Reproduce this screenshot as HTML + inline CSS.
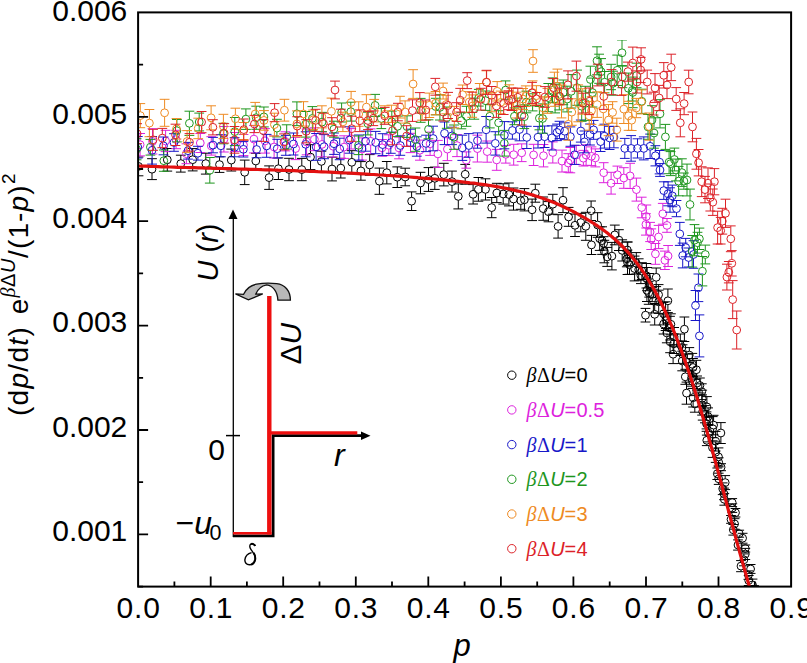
<!DOCTYPE html>
<html><head><meta charset="utf-8"><style>
html,body{margin:0;padding:0;background:#fff;}
svg{display:block;}
text{font-family:"Liberation Sans",sans-serif;}
</style></head><body>
<svg width="807" height="663" viewBox="0 0 807 663">
<defs><clipPath id="c"><rect x="138.1" y="12.4" width="653.0" height="574.2"/></clipPath><filter id="bl" x="0" y="0" width="1" height="1"><feGaussianBlur stdDeviation="0.4"/></filter></defs>
<rect width="807" height="663" fill="#fff"/>
<g clip-path="url(#c)"><g filter="url(#bl)">
<g stroke="#000000" stroke-width="1" fill="none"><path d="M133.6 157.0h9.8M138.5 157.0V162.5M138.5 170.3V175.8M133.6 175.8h9.8"/><circle cx="138.5" cy="166.4" r="3.9"/><path d="M147.1 158.7h9.8M152.0 158.7V165.3M152.0 173.1V179.6M147.1 179.6h9.8"/><circle cx="152.0" cy="169.2" r="3.9"/><path d="M162.4 148.5h9.8M167.3 148.5V155.9M167.3 163.7V171.1M162.4 171.1h9.8"/><circle cx="167.3" cy="159.8" r="3.9"/><path d="M175.9 155.2h9.8M180.8 155.2V159.7M180.8 167.5V172.1M175.9 172.1h9.8"/><circle cx="180.8" cy="163.6" r="3.9"/><path d="M187.8 148.6h9.8M192.7 148.6V155.8M192.7 163.6V170.9M187.8 170.9h9.8"/><circle cx="192.7" cy="159.7" r="3.9"/><path d="M200.9 153.2h9.8M205.8 153.2V159.7M205.8 167.5V174.1M200.9 174.1h9.8"/><circle cx="205.8" cy="163.6" r="3.9"/><path d="M214.6 156.8h9.8M219.5 156.8V160.7M219.5 168.5V172.4M214.6 172.4h9.8"/><circle cx="219.5" cy="164.6" r="3.9"/><path d="M226.4 149.1h9.8M231.3 149.1V156.2M231.3 164.0V171.0M226.4 171.0h9.8"/><circle cx="231.3" cy="160.1" r="3.9"/><path d="M239.8 160.1h9.8M244.7 160.1V168.4M244.7 176.2V184.6M239.8 184.6h9.8"/><circle cx="244.7" cy="172.3" r="3.9"/><path d="M250.9 153.3h9.8M255.8 153.3V157.1M255.8 164.9V168.7M250.9 168.7h9.8"/><circle cx="255.8" cy="161.0" r="3.9"/><path d="M264.2 165.9h9.8M269.1 165.9V173.7M269.1 181.5V189.4M264.2 189.4h9.8"/><circle cx="269.1" cy="177.6" r="3.9"/><path d="M273.5 157.9h9.8M278.4 157.9V164.8M278.4 172.6V179.5M273.5 179.5h9.8"/><circle cx="278.4" cy="168.7" r="3.9"/><path d="M284.1 158.3h9.8M289.0 158.3V165.6M289.0 173.4V180.7M284.1 180.7h9.8"/><circle cx="289.0" cy="169.5" r="3.9"/><path d="M296.9 158.4h9.8M301.8 158.4V165.7M301.8 173.5V180.7M296.9 180.7h9.8"/><circle cx="301.8" cy="169.6" r="3.9"/><path d="M305.6 144.7h9.8M310.5 144.7V153.2M310.5 161.0V169.6M305.6 169.6h9.8"/><circle cx="310.5" cy="157.1" r="3.9"/><path d="M316.5 151.2h9.8M321.4 151.2V157.5M321.4 165.3V171.6M316.5 171.6h9.8"/><circle cx="321.4" cy="161.4" r="3.9"/><path d="M327.1 157.2h9.8M332.0 157.2V165.1M332.0 172.9V180.9M327.1 180.9h9.8"/><circle cx="332.0" cy="169.0" r="3.9"/><path d="M335.9 158.3h9.8M340.8 158.3V164.2M340.8 172.0V178.0M335.9 178.0h9.8"/><circle cx="340.8" cy="168.1" r="3.9"/><path d="M346.9 150.7h9.8M351.8 150.7V158.4M351.8 166.2V173.9M346.9 173.9h9.8"/><circle cx="351.8" cy="162.3" r="3.9"/><path d="M356.0 161.6h9.8M360.9 161.6V167.0M360.9 174.8V180.2M356.0 180.2h9.8"/><circle cx="360.9" cy="170.9" r="3.9"/><path d="M364.8 154.6h9.8M369.7 154.6V161.0M369.7 168.8V175.3M364.8 175.3h9.8"/><circle cx="369.7" cy="164.9" r="3.9"/><path d="M374.5 168.1h9.8M379.4 168.1V177.3M379.4 185.1V194.3M374.5 194.3h9.8"/><circle cx="379.4" cy="181.2" r="3.9"/><path d="M381.9 161.5h9.8M386.8 161.5V168.8M386.8 176.6V183.9M381.9 183.9h9.8"/><circle cx="386.8" cy="172.7" r="3.9"/><path d="M392.4 166.9h9.8M397.3 166.9V173.3M397.3 181.1V187.5M392.4 187.5h9.8"/><circle cx="397.3" cy="177.2" r="3.9"/><path d="M400.3 168.2h9.8M405.2 168.2V173.1M405.2 180.9V185.8M400.3 185.8h9.8"/><circle cx="405.2" cy="177.0" r="3.9"/><path d="M406.7 191.9h9.8M411.6 191.9V197.3M411.6 205.1V210.5M406.7 210.5h9.8"/><circle cx="411.6" cy="201.2" r="3.9"/><path d="M415.6 172.3h9.8M420.5 172.3V179.1M420.5 186.9V193.8M415.6 193.8h9.8"/><circle cx="420.5" cy="183.0" r="3.9"/><path d="M423.6 167.6h9.8M428.5 167.6V175.6M428.5 183.4V191.4M423.6 191.4h9.8"/><circle cx="428.5" cy="179.5" r="3.9"/><path d="M429.9 167.1h9.8M434.8 167.1V174.4M434.8 182.2V189.4M429.9 189.4h9.8"/><circle cx="434.8" cy="178.3" r="3.9"/><path d="M438.9 163.3h9.8M443.8 163.3V170.7M443.8 178.5V185.9M438.9 185.9h9.8"/><circle cx="443.8" cy="174.6" r="3.9"/><path d="M447.1 171.1h9.8M452.0 171.1V177.7M452.0 185.5V192.0M447.1 192.0h9.8"/><circle cx="452.0" cy="181.6" r="3.9"/><path d="M453.4 183.9h9.8M458.3 183.9V192.5M458.3 200.3V208.9M453.4 208.9h9.8"/><circle cx="458.3" cy="196.4" r="3.9"/><path d="M460.3 164.4h9.8M465.2 164.4V170.4M465.2 178.2V184.2M460.3 184.2h9.8"/><circle cx="465.2" cy="174.3" r="3.9"/><path d="M468.2 184.6h9.8M473.1 184.6V190.4M473.1 198.2V204.0M468.2 204.0h9.8"/><circle cx="473.1" cy="194.3" r="3.9"/><path d="M473.5 177.5h9.8M478.4 177.5V185.5M478.4 193.3V201.2M473.5 201.2h9.8"/><circle cx="478.4" cy="189.4" r="3.9"/><path d="M480.6 178.8h9.8M485.5 178.8V185.5M485.5 193.3V200.0M480.6 200.0h9.8"/><circle cx="485.5" cy="189.4" r="3.9"/><path d="M486.8 197.5h9.8M491.7 197.5V203.7M491.7 211.5V217.7M486.8 217.7h9.8"/><circle cx="491.7" cy="207.6" r="3.9"/><path d="M491.9 183.3h9.8M496.8 183.3V189.1M496.8 196.9V202.6M491.9 202.6h9.8"/><circle cx="496.8" cy="193.0" r="3.9"/><path d="M498.3 183.8h9.8M503.2 183.8V190.1M503.2 197.9V204.1M498.3 204.1h9.8"/><circle cx="503.2" cy="194.0" r="3.9"/><path d="M504.0 183.0h9.8M508.9 183.0V190.6M508.9 198.4V205.9M504.0 205.9h9.8"/><circle cx="508.9" cy="194.5" r="3.9"/><path d="M508.6 188.0h9.8M513.5 188.0V195.1M513.5 202.9V210.1M508.6 210.1h9.8"/><circle cx="513.5" cy="199.0" r="3.9"/><path d="M515.9 191.9h9.8M520.8 191.9V196.7M520.8 204.5V209.3M515.9 209.3h9.8"/><circle cx="520.8" cy="200.6" r="3.9"/><path d="M519.5 188.6h9.8M524.4 188.6V195.9M524.4 203.7V210.9M519.5 210.9h9.8"/><circle cx="524.4" cy="199.8" r="3.9"/><path d="M527.2 199.1h9.8M532.1 199.1V205.9M532.1 213.7V220.6M527.2 220.6h9.8"/><circle cx="532.1" cy="209.8" r="3.9"/><path d="M530.4 184.2h9.8M535.3 184.2V189.3M535.3 197.1V202.2M530.4 202.2h9.8"/><circle cx="535.3" cy="193.2" r="3.9"/><path d="M538.3 197.0h9.8M543.2 197.0V204.7M543.2 212.5V220.3M538.3 220.3h9.8"/><circle cx="543.2" cy="208.6" r="3.9"/><path d="M543.6 201.6h9.8M548.5 201.6V207.8M548.5 215.6V221.8M543.6 221.8h9.8"/><circle cx="548.5" cy="211.7" r="3.9"/><path d="M547.9 194.3h9.8M552.8 194.3V200.3M552.8 208.1V214.2M547.9 214.2h9.8"/><circle cx="552.8" cy="204.2" r="3.9"/><path d="M553.2 214.7h9.8M558.1 214.7V222.5M558.1 230.3V238.1M553.2 238.1h9.8"/><circle cx="558.1" cy="226.4" r="3.9"/><path d="M558.1 187.7h9.8M563.0 187.7V196.3M563.0 204.1V212.6M558.1 212.6h9.8"/><circle cx="563.0" cy="200.2" r="3.9"/><path d="M563.7 207.4h9.8M568.6 207.4V213.0M568.6 220.8V226.3M563.7 226.3h9.8"/><circle cx="568.6" cy="216.9" r="3.9"/><path d="M570.1 214.1h9.8M575.0 214.1V221.4M575.0 229.2V236.5M570.1 236.5h9.8"/><circle cx="575.0" cy="225.3" r="3.9"/><path d="M575.9 213.4h9.8M580.8 213.4V218.7M580.8 226.5V231.8M575.9 231.8h9.8"/><circle cx="580.8" cy="222.6" r="3.9"/><path d="M580.9 212.3h9.8M585.8 212.3V222.4M585.8 230.2V240.3M580.9 240.3h9.8"/><circle cx="585.8" cy="226.3" r="3.9"/><path d="M586.2 201.0h9.8M591.1 201.0V206.8M591.1 214.6V220.5M586.2 220.5h9.8"/><circle cx="591.1" cy="210.7" r="3.9"/><path d="M592.7 212.7h9.8M597.6 212.7V221.1M597.6 228.9V237.3M592.7 237.3h9.8"/><circle cx="597.6" cy="225.0" r="3.9"/><path d="M586.6 235.4h9.8M591.5 235.4V241.0M591.5 248.8V254.5M586.6 254.5h9.8"/><circle cx="591.5" cy="244.9" r="3.9"/><path d="M594.8 226.9h9.8M599.7 226.9V234.7M599.7 242.5V250.4M594.8 250.4h9.8"/><circle cx="599.7" cy="238.6" r="3.9"/><path d="M597.2 226.8h9.8M602.1 226.8V236.7M602.1 244.5V254.4M597.2 254.4h9.8"/><circle cx="602.1" cy="240.6" r="3.9"/><path d="M598.7 236.7h9.8M603.6 236.7V239.5M603.6 247.3V250.1M598.7 250.1h9.8"/><circle cx="603.6" cy="243.4" r="3.9"/><path d="M609.9 225.1h9.8M614.8 225.1V231.0M614.8 238.8V244.8M609.9 244.8h9.8"/><circle cx="614.8" cy="234.9" r="3.9"/><path d="M599.4 240.3h9.8M604.3 240.3V247.7M604.3 255.5V262.8M599.4 262.8h9.8"/><circle cx="604.3" cy="251.6" r="3.9"/><path d="M614.0 229.7h9.8M618.9 229.7V236.2M618.9 244.0V250.5M614.0 250.5h9.8"/><circle cx="618.9" cy="240.1" r="3.9"/><path d="M602.3 247.4h9.8M607.2 247.4V253.0M607.2 260.8V266.4M602.3 266.4h9.8"/><circle cx="607.2" cy="256.9" r="3.9"/><path d="M607.0 242.4h9.8M611.9 242.4V252.2M611.9 260.0V269.9M607.0 269.9h9.8"/><circle cx="611.9" cy="256.1" r="3.9"/><path d="M617.3 239.8h9.8M622.2 239.8V246.5M622.2 254.3V261.0M617.3 261.0h9.8"/><circle cx="622.2" cy="250.4" r="3.9"/><path d="M622.4 242.0h9.8M627.3 242.0V246.1M627.3 253.9V258.0M622.4 258.0h9.8"/><circle cx="627.3" cy="250.0" r="3.9"/><path d="M622.9 242.0h9.8M627.8 242.0V249.9M627.8 257.7V265.6M622.9 265.6h9.8"/><circle cx="627.8" cy="253.8" r="3.9"/><path d="M621.9 251.0h9.8M626.8 251.0V255.0M626.8 262.8V266.8M621.9 266.8h9.8"/><circle cx="626.8" cy="258.9" r="3.9"/><path d="M622.6 250.1h9.8M627.5 250.1V258.4M627.5 266.2V274.5M622.6 274.5h9.8"/><circle cx="627.5" cy="262.3" r="3.9"/><path d="M624.6 255.0h9.8M629.5 255.0V260.8M629.5 268.6V274.3M624.6 274.3h9.8"/><circle cx="629.5" cy="264.7" r="3.9"/><path d="M631.4 252.6h9.8M636.3 252.6V259.4M636.3 267.2V274.0M631.4 274.0h9.8"/><circle cx="636.3" cy="263.3" r="3.9"/><path d="M629.7 256.1h9.8M634.6 256.1V264.6M634.6 272.4V280.9M629.7 280.9h9.8"/><circle cx="634.6" cy="268.5" r="3.9"/><path d="M633.8 258.8h9.8M638.7 258.8V265.6M638.7 273.4V280.2M633.8 280.2h9.8"/><circle cx="638.7" cy="269.5" r="3.9"/><path d="M637.0 262.7h9.8M641.9 262.7V267.2M641.9 275.0V279.5M637.0 279.5h9.8"/><circle cx="641.9" cy="271.1" r="3.9"/><path d="M636.0 267.6h9.8M640.9 267.6V271.7M640.9 279.5V283.6M636.0 283.6h9.8"/><circle cx="640.9" cy="275.6" r="3.9"/><path d="M641.5 263.5h9.8M646.4 263.5V271.8M646.4 279.6V288.0M641.5 288.0h9.8"/><circle cx="646.4" cy="275.7" r="3.9"/><path d="M642.3 267.5h9.8M647.2 267.5V275.2M647.2 283.0V290.7M642.3 290.7h9.8"/><circle cx="647.2" cy="279.1" r="3.9"/><path d="M651.3 268.0h9.8M656.2 268.0V273.4M656.2 281.2V286.6M651.3 286.6h9.8"/><circle cx="656.2" cy="277.3" r="3.9"/><path d="M644.3 273.5h9.8M649.2 273.5V281.4M649.2 289.2V297.1M644.3 297.1h9.8"/><circle cx="649.2" cy="285.3" r="3.9"/><path d="M642.0 279.0h9.8M646.9 279.0V286.4M646.9 294.2V301.5M642.0 301.5h9.8"/><circle cx="646.9" cy="290.3" r="3.9"/><path d="M643.8 281.3h9.8M648.7 281.3V288.9M648.7 296.7V304.3M643.8 304.3h9.8"/><circle cx="648.7" cy="292.8" r="3.9"/><path d="M647.3 287.4h9.8M652.2 287.4V290.6M652.2 298.4V301.7M647.3 301.7h9.8"/><circle cx="652.2" cy="294.5" r="3.9"/><path d="M653.7 284.6h9.8M658.6 284.6V290.8M658.6 298.6V304.7M653.7 304.7h9.8"/><circle cx="658.6" cy="294.7" r="3.9"/><path d="M648.5 289.2h9.8M653.4 289.2V297.1M653.4 304.9V312.9M648.5 312.9h9.8"/><circle cx="653.4" cy="301.0" r="3.9"/><path d="M653.8 290.2h9.8M658.7 290.2V297.9M658.7 305.7V313.4M653.8 313.4h9.8"/><circle cx="658.7" cy="301.8" r="3.9"/><path d="M663.0 289.0h9.8M667.9 289.0V296.9M667.9 304.7V312.6M663.0 312.6h9.8"/><circle cx="667.9" cy="300.8" r="3.9"/><path d="M640.6 308.4h9.8M645.5 308.4V311.3M645.5 319.1V322.0M640.6 322.0h9.8"/><circle cx="645.5" cy="315.2" r="3.9"/><path d="M649.8 303.5h9.8M654.7 303.5V310.4M654.7 318.2V325.0M649.8 325.0h9.8"/><circle cx="654.7" cy="314.3" r="3.9"/><path d="M658.6 302.4h9.8M663.5 302.4V309.8M663.5 317.6V324.9M658.6 324.9h9.8"/><circle cx="663.5" cy="313.7" r="3.9"/><path d="M660.7 301.8h9.8M665.6 301.8V312.3M665.6 320.1V330.5M660.7 330.5h9.8"/><circle cx="665.6" cy="316.2" r="3.9"/><path d="M661.1 310.4h9.8M666.0 310.4V315.6M666.0 323.4V328.5M661.1 328.5h9.8"/><circle cx="666.0" cy="319.5" r="3.9"/><path d="M658.7 314.0h9.8M663.6 314.0V320.1M663.6 327.9V334.0M658.7 334.0h9.8"/><circle cx="663.6" cy="324.0" r="3.9"/><path d="M666.0 313.8h9.8M670.9 313.8V320.4M670.9 328.2V334.9M666.0 334.9h9.8"/><circle cx="670.9" cy="324.3" r="3.9"/><path d="M665.1 316.3h9.8M670.0 316.3V324.2M670.0 332.0V340.0M665.1 340.0h9.8"/><circle cx="670.0" cy="328.1" r="3.9"/><path d="M661.9 323.1h9.8M666.8 323.1V329.0M666.8 336.8V342.8M661.9 342.8h9.8"/><circle cx="666.8" cy="332.9" r="3.9"/><path d="M679.5 317.0h9.8M684.4 317.0V325.3M684.4 333.1V341.5M679.5 341.5h9.8"/><circle cx="684.4" cy="329.2" r="3.9"/><path d="M669.2 327.5h9.8M674.1 327.5V332.9M674.1 340.7V346.2M669.2 346.2h9.8"/><circle cx="674.1" cy="336.8" r="3.9"/><path d="M665.2 330.9h9.8M670.1 330.9V337.9M670.1 345.7V352.7M665.2 352.7h9.8"/><circle cx="670.1" cy="341.8" r="3.9"/><path d="M668.9 334.0h9.8M673.8 334.0V339.9M673.8 347.7V353.5M668.9 353.5h9.8"/><circle cx="673.8" cy="343.8" r="3.9"/><path d="M675.4 334.0h9.8M680.3 334.0V340.8M680.3 348.6V355.5M675.4 355.5h9.8"/><circle cx="680.3" cy="344.7" r="3.9"/><path d="M677.1 340.9h9.8M682.0 340.9V343.6M682.0 351.4V354.1M677.1 354.1h9.8"/><circle cx="682.0" cy="347.5" r="3.9"/><path d="M668.2 344.7h9.8M673.1 344.7V350.3M673.1 358.1V363.6M668.2 363.6h9.8"/><circle cx="673.1" cy="354.2" r="3.9"/><path d="M677.7 344.8h9.8M682.6 344.8V350.2M682.6 358.0V363.4M677.7 363.4h9.8"/><circle cx="682.6" cy="354.1" r="3.9"/><path d="M684.4 347.6h9.8M689.3 347.6V351.2M689.3 359.0V362.6M684.4 362.6h9.8"/><circle cx="689.3" cy="355.1" r="3.9"/><path d="M677.3 351.2h9.8M682.2 351.2V357.1M682.2 364.9V370.8M677.3 370.8h9.8"/><circle cx="682.2" cy="361.0" r="3.9"/><path d="M682.5 354.1h9.8M687.4 354.1V358.7M687.4 366.5V371.1M682.5 371.1h9.8"/><circle cx="687.4" cy="362.6" r="3.9"/><path d="M687.4 353.4h9.8M692.3 353.4V360.4M692.3 368.2V375.2M687.4 375.2h9.8"/><circle cx="692.3" cy="364.3" r="3.9"/><path d="M688.1 358.5h9.8M693.0 358.5V363.6M693.0 371.4V376.5M688.1 376.5h9.8"/><circle cx="693.0" cy="367.5" r="3.9"/><path d="M691.5 360.3h9.8M696.4 360.3V365.8M696.4 373.6V379.1M691.5 379.1h9.8"/><circle cx="696.4" cy="369.7" r="3.9"/><path d="M680.4 369.3h9.8M685.3 369.3V372.9M685.3 380.7V384.3M680.4 384.3h9.8"/><circle cx="685.3" cy="376.8" r="3.9"/><path d="M686.6 370.0h9.8M691.5 370.0V374.2M691.5 382.0V386.2M686.6 386.2h9.8"/><circle cx="691.5" cy="378.1" r="3.9"/><path d="M687.6 373.9h9.8M692.5 373.9V377.3M692.5 385.1V388.4M687.6 388.4h9.8"/><circle cx="692.5" cy="381.2" r="3.9"/><path d="M692.2 376.0h9.8M697.1 376.0V379.1M697.1 386.9V390.1M692.2 390.1h9.8"/><circle cx="697.1" cy="383.0" r="3.9"/><path d="M695.0 378.0h9.8M699.9 378.0V381.6M699.9 389.4V393.0M695.0 393.0h9.8"/><circle cx="699.9" cy="385.5" r="3.9"/><path d="M681.6 382.1h9.8M686.5 382.1V389.2M686.5 397.0V404.2M681.6 404.2h9.8"/><circle cx="686.5" cy="393.1" r="3.9"/><path d="M696.9 383.8h9.8M701.8 383.8V387.8M701.8 395.6V399.6M696.9 399.6h9.8"/><circle cx="701.8" cy="391.7" r="3.9"/><path d="M688.2 388.5h9.8M693.1 388.5V393.8M693.1 401.6V407.0M688.2 407.0h9.8"/><circle cx="693.1" cy="397.7" r="3.9"/><path d="M697.3 390.2h9.8M702.2 390.2V394.4M702.2 402.2V406.4M697.3 406.4h9.8"/><circle cx="702.2" cy="398.3" r="3.9"/><path d="M689.9 395.6h9.8M694.8 395.6V400.0M694.8 407.8V412.2M689.9 412.2h9.8"/><circle cx="694.8" cy="403.9" r="3.9"/><path d="M697.2 394.9h9.8M702.1 394.9V401.1M702.1 408.9V415.1M697.2 415.1h9.8"/><circle cx="702.1" cy="405.0" r="3.9"/><path d="M702.0 396.6h9.8M706.9 396.6V403.0M706.9 410.8V417.3M702.0 417.3h9.8"/><circle cx="706.9" cy="406.9" r="3.9"/><path d="M697.8 403.0h9.8M702.7 403.0V407.6M702.7 415.4V420.1M697.8 420.1h9.8"/><circle cx="702.7" cy="411.5" r="3.9"/><path d="M700.0 405.6h9.8M704.9 405.6V410.3M704.9 418.1V422.8M700.0 422.8h9.8"/><circle cx="704.9" cy="414.2" r="3.9"/><path d="M703.2 407.9h9.8M708.1 407.9V412.7M708.1 420.5V425.4M703.2 425.4h9.8"/><circle cx="708.1" cy="416.6" r="3.9"/><path d="M701.6 411.9h9.8M706.5 411.9V416.5M706.5 424.3V428.9M701.6 428.9h9.8"/><circle cx="706.5" cy="420.4" r="3.9"/><path d="M701.6 416.2h9.8M706.5 416.2V419.9M706.5 427.7V431.3M701.6 431.3h9.8"/><circle cx="706.5" cy="423.8" r="3.9"/><path d="M708.7 415.3h9.8M713.6 415.3V421.2M713.6 429.0V434.8M708.7 434.8h9.8"/><circle cx="713.6" cy="425.1" r="3.9"/><path d="M707.8 416.6h9.8M712.7 416.6V424.8M712.7 432.6V440.8M707.8 440.8h9.8"/><circle cx="712.7" cy="428.7" r="3.9"/><path d="M703.5 424.5h9.8M708.4 424.5V429.3M708.4 437.1V441.9M703.5 441.9h9.8"/><circle cx="708.4" cy="433.2" r="3.9"/><path d="M716.0 422.6h9.8M720.9 422.6V429.1M720.9 436.9V443.5M716.0 443.5h9.8"/><circle cx="720.9" cy="433.0" r="3.9"/><path d="M701.9 435.1h9.8M706.8 435.1V436.4M706.8 444.2V445.6M701.9 445.6h9.8"/><circle cx="706.8" cy="440.3" r="3.9"/><path d="M710.7 431.4h9.8M715.6 431.4V437.3M715.6 445.1V451.0M710.7 451.0h9.8"/><circle cx="715.6" cy="441.2" r="3.9"/><path d="M707.6 437.7h9.8M712.5 437.7V443.7M712.5 451.5V457.4M707.6 457.4h9.8"/><circle cx="712.5" cy="447.6" r="3.9"/><path d="M710.8 441.9h9.8M715.7 441.9V448.3M715.7 456.1V462.4M710.8 462.4h9.8"/><circle cx="715.7" cy="452.2" r="3.9"/><path d="M713.6 447.9h9.8M718.5 447.9V453.0M718.5 460.8V465.9M713.6 465.9h9.8"/><circle cx="718.5" cy="456.9" r="3.9"/><path d="M713.8 457.8h9.8M718.7 457.8V458.4M718.7 466.2V466.9M713.8 466.9h9.8"/><circle cx="718.7" cy="462.3" r="3.9"/><path d="M716.2 463.7h9.8M716.2 470.7h9.8"/><circle cx="721.1" cy="467.2" r="3.9"/><path d="M712.4 468.0h9.8M717.3 468.0V469.8M717.3 477.6V479.5M712.4 479.5h9.8"/><circle cx="717.3" cy="473.7" r="3.9"/><path d="M713.8 473.2h9.8M718.7 473.2V474.9M718.7 482.7V484.4M713.8 484.4h9.8"/><circle cx="718.7" cy="478.8" r="3.9"/><path d="M720.3 475.6h9.8M725.2 475.6V478.7M725.2 486.5V489.6M720.3 489.6h9.8"/><circle cx="725.2" cy="482.6" r="3.9"/><path d="M717.8 482.9h9.8M722.7 482.9V484.8M722.7 492.6V494.6M717.8 494.6h9.8"/><circle cx="722.7" cy="488.7" r="3.9"/><path d="M719.1 488.1h9.8M724.0 488.1V490.0M724.0 497.8V499.7M719.1 499.7h9.8"/><circle cx="724.0" cy="493.9" r="3.9"/><path d="M719.4 493.4h9.8M724.3 493.4V495.4M724.3 503.2V505.2M719.4 505.2h9.8"/><circle cx="724.3" cy="499.3" r="3.9"/><path d="M727.3 498.6h9.8M732.2 498.6V498.7M732.2 506.5V506.6M727.3 506.6h9.8"/><circle cx="732.2" cy="502.6" r="3.9"/><path d="M727.4 503.8h9.8M732.3 503.8V504.2M732.3 512.0V512.4M727.4 512.4h9.8"/><circle cx="732.3" cy="508.1" r="3.9"/><path d="M730.6 508.5h9.8M735.5 508.5V508.8M735.5 516.6V517.0M730.6 517.0h9.8"/><circle cx="735.5" cy="512.7" r="3.9"/><path d="M726.1 515.5h9.8M731.0 515.5V515.5M731.0 523.3V523.3M726.1 523.3h9.8"/><circle cx="731.0" cy="519.4" r="3.9"/><path d="M729.7 518.7h9.8M734.6 518.7V520.0M734.6 527.8V529.2M729.7 529.2h9.8"/><circle cx="734.6" cy="523.9" r="3.9"/><path d="M728.4 524.5h9.8M733.3 524.5V525.9M733.3 533.7V535.1M728.4 535.1h9.8"/><circle cx="733.3" cy="529.8" r="3.9"/><path d="M734.3 530.2h9.8M734.3 537.2h9.8"/><circle cx="739.2" cy="533.7" r="3.9"/><path d="M737.7 533.3h9.8M742.6 533.3V534.3M742.6 542.1V543.2M737.7 543.2h9.8"/><circle cx="742.6" cy="538.2" r="3.9"/><path d="M733.1 539.9h9.8M738.0 539.9V541.1M738.0 548.9V550.1M733.1 550.1h9.8"/><circle cx="738.0" cy="545.0" r="3.9"/><path d="M740.4 545.0h9.8M740.4 552.0h9.8"/><circle cx="745.3" cy="548.5" r="3.9"/><path d="M740.4 548.4h9.8M745.3 548.4V550.1M745.3 557.9V559.5M740.4 559.5h9.8"/><circle cx="745.3" cy="554.0" r="3.9"/><path d="M739.0 553.9h9.8M743.9 553.9V555.9M743.9 563.7V565.8M739.0 565.8h9.8"/><circle cx="743.9" cy="559.8" r="3.9"/><path d="M736.1 560.6h9.8M741.0 560.6V562.2M741.0 570.0V571.7M736.1 571.7h9.8"/><circle cx="741.0" cy="566.1" r="3.9"/><path d="M745.7 564.5h9.8M750.6 564.5V565.1M750.6 572.9V573.4M745.7 573.4h9.8"/><circle cx="750.6" cy="569.0" r="3.9"/><path d="M743.5 570.9h9.8M748.4 570.9V571.2M748.4 579.0V579.3M743.5 579.3h9.8"/><circle cx="748.4" cy="575.1" r="3.9"/><path d="M743.8 575.5h9.8M748.7 575.5V576.6M748.7 584.4V585.5M743.8 585.5h9.8"/><circle cx="748.7" cy="580.5" r="3.9"/><path d="M747.6 579.1h9.8M752.5 579.1V581.0M752.5 588.8V590.7M747.6 590.7h9.8"/><circle cx="752.5" cy="584.9" r="3.9"/><path d="M749.1 585.6h9.8M754.0 585.6V586.1M754.0 593.9V594.3M749.1 594.3h9.8"/><circle cx="754.0" cy="590.0" r="3.9"/></g><g stroke="#dd22dd" stroke-width="1" fill="none"><path d="M135.2 133.5h9.8M140.1 133.5V140.8M140.1 148.6V155.9M135.2 155.9h9.8"/><circle cx="140.1" cy="144.7" r="3.9"/><path d="M147.6 128.7h9.8M152.5 128.7V137.5M152.5 145.3V154.0M147.6 154.0h9.8"/><circle cx="152.5" cy="141.4" r="3.9"/><path d="M160.7 130.3h9.8M165.6 130.3V137.1M165.6 144.9V151.6M160.7 151.6h9.8"/><circle cx="165.6" cy="141.0" r="3.9"/><path d="M171.2 130.3h9.8M176.1 130.3V135.6M176.1 143.4V148.7M171.2 148.7h9.8"/><circle cx="176.1" cy="139.5" r="3.9"/><path d="M181.5 143.8h9.8M186.4 143.8V149.8M186.4 157.6V163.7M181.5 163.7h9.8"/><circle cx="186.4" cy="153.7" r="3.9"/><path d="M195.4 133.5h9.8M200.3 133.5V139.1M200.3 146.9V152.5M195.4 152.5h9.8"/><circle cx="200.3" cy="143.0" r="3.9"/><path d="M206.4 136.7h9.8M211.3 136.7V142.0M211.3 149.8V155.1M206.4 155.1h9.8"/><circle cx="211.3" cy="145.9" r="3.9"/><path d="M219.0 126.5h9.8M223.9 126.5V135.4M223.9 143.2V152.0M219.0 152.0h9.8"/><circle cx="223.9" cy="139.3" r="3.9"/><path d="M229.9 132.5h9.8M234.8 132.5V138.2M234.8 146.0V151.6M229.9 151.6h9.8"/><circle cx="234.8" cy="142.1" r="3.9"/><path d="M238.6 134.5h9.8M243.5 134.5V141.2M243.5 149.0V155.6M238.6 155.6h9.8"/><circle cx="243.5" cy="145.1" r="3.9"/><path d="M249.0 125.4h9.8M253.9 125.4V135.2M253.9 143.0V152.9M249.0 152.9h9.8"/><circle cx="253.9" cy="139.1" r="3.9"/><path d="M260.1 128.6h9.8M265.0 128.6V137.0M265.0 144.8V153.1M260.1 153.1h9.8"/><circle cx="265.0" cy="140.9" r="3.9"/><path d="M269.2 135.9h9.8M274.1 135.9V143.1M274.1 150.9V158.0M269.2 158.0h9.8"/><circle cx="274.1" cy="147.0" r="3.9"/><path d="M280.4 131.8h9.8M285.3 131.8V137.5M285.3 145.3V150.9M280.4 150.9h9.8"/><circle cx="285.3" cy="141.4" r="3.9"/><path d="M290.7 137.4h9.8M295.6 137.4V144.6M295.6 152.4V159.6M290.7 159.6h9.8"/><circle cx="295.6" cy="148.5" r="3.9"/><path d="M301.7 129.0h9.8M306.6 129.0V138.0M306.6 145.8V154.8M301.7 154.8h9.8"/><circle cx="306.6" cy="141.9" r="3.9"/><path d="M309.5 127.8h9.8M314.4 127.8V135.4M314.4 143.2V150.7M309.5 150.7h9.8"/><circle cx="314.4" cy="139.3" r="3.9"/><path d="M317.1 132.0h9.8M322.0 132.0V140.5M322.0 148.3V156.8M317.1 156.8h9.8"/><circle cx="322.0" cy="144.4" r="3.9"/><path d="M328.3 135.7h9.8M333.2 135.7V142.4M333.2 150.2V157.0M328.3 157.0h9.8"/><circle cx="333.2" cy="146.3" r="3.9"/><path d="M339.2 135.8h9.8M344.1 135.8V143.2M344.1 151.0V158.4M339.2 158.4h9.8"/><circle cx="344.1" cy="147.1" r="3.9"/><path d="M346.2 128.6h9.8M351.1 128.6V134.9M351.1 142.7V149.0M346.2 149.0h9.8"/><circle cx="351.1" cy="138.8" r="3.9"/><path d="M357.2 137.9h9.8M362.1 137.9V145.1M362.1 152.9V160.1M357.2 160.1h9.8"/><circle cx="362.1" cy="149.0" r="3.9"/><path d="M365.8 128.9h9.8M370.7 128.9V137.4M370.7 145.2V153.8M365.8 153.8h9.8"/><circle cx="370.7" cy="141.3" r="3.9"/><path d="M377.1 139.5h9.8M382.0 139.5V143.9M382.0 151.7V156.2M377.1 156.2h9.8"/><circle cx="382.0" cy="147.8" r="3.9"/><path d="M383.9 134.8h9.8M388.8 134.8V141.3M388.8 149.1V155.6M383.9 155.6h9.8"/><circle cx="388.8" cy="145.2" r="3.9"/><path d="M394.1 137.1h9.8M399.0 137.1V144.0M399.0 151.8V158.8M394.1 158.8h9.8"/><circle cx="399.0" cy="147.9" r="3.9"/><path d="M405.6 133.3h9.8M410.5 133.3V139.1M410.5 146.9V152.6M405.6 152.6h9.8"/><circle cx="410.5" cy="143.0" r="3.9"/><path d="M415.0 140.1h9.8M419.9 140.1V146.3M419.9 154.1V160.2M415.0 160.2h9.8"/><circle cx="419.9" cy="150.2" r="3.9"/><path d="M425.2 132.1h9.8M430.1 132.1V139.9M430.1 147.7V155.4M425.2 155.4h9.8"/><circle cx="430.1" cy="143.8" r="3.9"/><path d="M433.0 140.4h9.8M437.9 140.4V150.0M437.9 157.8V167.4M433.0 167.4h9.8"/><circle cx="437.9" cy="153.9" r="3.9"/><path d="M442.5 137.7h9.8M447.4 137.7V145.2M447.4 153.0V160.6M442.5 160.6h9.8"/><circle cx="447.4" cy="149.1" r="3.9"/><path d="M452.1 134.6h9.8M457.0 134.6V141.7M457.0 149.5V156.6M452.1 156.6h9.8"/><circle cx="457.0" cy="145.6" r="3.9"/><path d="M461.4 151.9h9.8M466.3 151.9V156.2M466.3 164.0V168.2M461.4 168.2h9.8"/><circle cx="466.3" cy="160.1" r="3.9"/><path d="M472.5 135.2h9.8M477.4 135.2V144.7M477.4 152.5V162.0M472.5 162.0h9.8"/><circle cx="477.4" cy="148.6" r="3.9"/><path d="M482.3 141.0h9.8M487.2 141.0V147.7M487.2 155.5V162.2M482.3 162.2h9.8"/><circle cx="487.2" cy="151.6" r="3.9"/><path d="M491.8 149.4h9.8M496.7 149.4V156.0M496.7 163.8V170.3M491.8 170.3h9.8"/><circle cx="496.7" cy="159.9" r="3.9"/><path d="M500.9 145.5h9.8M505.8 145.5V150.4M505.8 158.2V163.1M500.9 163.1h9.8"/><circle cx="505.8" cy="154.3" r="3.9"/><path d="M508.8 144.3h9.8M513.7 144.3V150.8M513.7 158.6V165.1M508.8 165.1h9.8"/><circle cx="513.7" cy="154.7" r="3.9"/><path d="M516.8 143.9h9.8M521.7 143.9V148.9M521.7 156.7V161.6M516.8 161.6h9.8"/><circle cx="521.7" cy="152.8" r="3.9"/><path d="M528.7 144.3h9.8M533.6 144.3V151.0M533.6 158.8V165.5M528.7 165.5h9.8"/><circle cx="533.6" cy="154.9" r="3.9"/><path d="M538.6 144.5h9.8M543.5 144.5V151.8M543.5 159.6V166.9M538.6 166.9h9.8"/><circle cx="543.5" cy="155.7" r="3.9"/><path d="M547.9 141.9h9.8M552.8 141.9V148.6M552.8 156.4V163.0M547.9 163.0h9.8"/><circle cx="552.8" cy="152.5" r="3.9"/><path d="M557.1 150.1h9.8M562.0 150.1V157.2M562.0 165.0V172.0M557.1 172.0h9.8"/><circle cx="562.0" cy="161.1" r="3.9"/><path d="M563.4 153.7h9.8M568.3 153.7V159.1M568.3 166.9V172.2M563.4 172.2h9.8"/><circle cx="568.3" cy="163.0" r="3.9"/><path d="M565.4 147.5h9.8M570.3 147.5V156.2M570.3 164.0V172.8M565.4 172.8h9.8"/><circle cx="570.3" cy="160.1" r="3.9"/><path d="M571.4 145.5h9.8M576.3 145.5V151.1M576.3 158.9V164.5M571.4 164.5h9.8"/><circle cx="576.3" cy="155.0" r="3.9"/><path d="M578.5 150.4h9.8M583.4 150.4V154.3M583.4 162.1V166.0M578.5 166.0h9.8"/><circle cx="583.4" cy="158.2" r="3.9"/><path d="M581.2 144.8h9.8M586.1 144.8V151.1M586.1 158.9V165.3M581.2 165.3h9.8"/><circle cx="586.1" cy="155.0" r="3.9"/><path d="M586.6 146.9h9.8M591.5 146.9V152.4M591.5 160.2V165.6M586.6 165.6h9.8"/><circle cx="591.5" cy="156.3" r="3.9"/><path d="M590.4 148.9h9.8M595.3 148.9V154.0M595.3 161.8V166.9M590.4 166.9h9.8"/><circle cx="595.3" cy="157.9" r="3.9"/><path d="M598.8 162.7h9.8M603.7 162.7V168.8M603.7 176.6V182.7M598.8 182.7h9.8"/><circle cx="603.7" cy="172.7" r="3.9"/><path d="M606.2 172.3h9.8M611.1 172.3V179.3M611.1 187.1V194.1M606.2 194.1h9.8"/><circle cx="611.1" cy="183.2" r="3.9"/><path d="M612.5 166.1h9.8M617.4 166.1V170.9M617.4 178.7V183.5M612.5 183.5h9.8"/><circle cx="617.4" cy="174.8" r="3.9"/><path d="M618.9 167.7h9.8M623.8 167.7V174.1M623.8 181.9V188.3M618.9 188.3h9.8"/><circle cx="623.8" cy="178.0" r="3.9"/><path d="M625.2 163.3h9.8M630.1 163.3V172.0M630.1 179.8V188.5M625.2 188.5h9.8"/><circle cx="630.1" cy="175.9" r="3.9"/><path d="M631.5 178.1h9.8M636.4 178.1V185.7M636.4 193.5V201.1M631.5 201.1h9.8"/><circle cx="636.4" cy="189.6" r="3.9"/><path d="M636.8 197.2h9.8M641.7 197.2V203.6M641.7 211.4V217.8M636.8 217.8h9.8"/><circle cx="641.7" cy="207.5" r="3.9"/><path d="M641.0 213.7h9.8M645.9 213.7V220.5M645.9 228.3V235.1M641.0 235.1h9.8"/><circle cx="645.9" cy="224.4" r="3.9"/><path d="M646.3 228.9h9.8M651.2 228.9V235.3M651.2 243.1V249.5M646.3 249.5h9.8"/><circle cx="651.2" cy="239.2" r="3.9"/><path d="M650.5 243.5h9.8M655.4 243.5V250.0M655.4 257.8V264.3M650.5 264.3h9.8"/><circle cx="655.4" cy="253.9" r="3.9"/><path d="M653.7 225.4h9.8M658.6 225.4V233.1M658.6 240.9V248.6M653.7 248.6h9.8"/><circle cx="658.6" cy="237.0" r="3.9"/><path d="M657.9 203.4h9.8M662.8 203.4V209.9M662.8 217.7V224.2M657.9 224.2h9.8"/><circle cx="662.8" cy="213.8" r="3.9"/><path d="M662.1 218.5h9.8M667.0 218.5V221.5M667.0 229.3V232.3M662.1 232.3h9.8"/><circle cx="667.0" cy="225.4" r="3.9"/><path d="M663.2 245.5h9.8M668.1 245.5V252.1M668.1 259.9V266.5M663.2 266.5h9.8"/><circle cx="668.1" cy="256.0" r="3.9"/><path d="M660.0 251.1h9.8M664.9 251.1V256.4M664.9 264.2V269.5M660.0 269.5h9.8"/><circle cx="664.9" cy="260.3" r="3.9"/><path d="M641.4 205.0h9.8M646.3 205.0V212.6M646.3 220.4V228.0M641.4 228.0h9.8"/><circle cx="646.3" cy="216.5" r="3.9"/><path d="M645.2 222.4h9.8M650.1 222.4V228.1M650.1 235.9V241.6M645.2 241.6h9.8"/><circle cx="650.1" cy="232.0" r="3.9"/></g><g stroke="#1818c8" stroke-width="1" fill="none"><path d="M132.9 136.5h9.8M137.8 136.5V143.3M137.8 151.1V158.0M132.9 158.0h9.8"/><circle cx="137.8" cy="147.2" r="3.9"/><path d="M147.2 136.5h9.8M152.1 136.5V146.4M152.1 154.2V164.1M147.2 164.1h9.8"/><circle cx="152.1" cy="150.3" r="3.9"/><path d="M158.6 137.0h9.8M163.5 137.0V142.0M163.5 149.8V154.8M158.6 154.8h9.8"/><circle cx="163.5" cy="145.9" r="3.9"/><path d="M169.1 133.7h9.8M174.0 133.7V138.6M174.0 146.4V151.3M169.1 151.3h9.8"/><circle cx="174.0" cy="142.5" r="3.9"/><path d="M183.1 142.4h9.8M188.0 142.4V146.8M188.0 154.6V159.1M183.1 159.1h9.8"/><circle cx="188.0" cy="150.7" r="3.9"/><path d="M193.0 146.3h9.8M197.9 146.3V149.3M197.9 157.1V160.1M193.0 160.1h9.8"/><circle cx="197.9" cy="153.2" r="3.9"/><path d="M208.1 137.4h9.8M213.0 137.4V141.2M213.0 149.0V152.8M208.1 152.8h9.8"/><circle cx="213.0" cy="145.1" r="3.9"/><path d="M216.0 134.7h9.8M220.9 134.7V141.9M220.9 149.7V156.8M216.0 156.8h9.8"/><circle cx="220.9" cy="145.8" r="3.9"/><path d="M229.7 137.7h9.8M234.6 137.7V143.4M234.6 151.2V156.8M229.7 156.8h9.8"/><circle cx="234.6" cy="147.3" r="3.9"/><path d="M238.5 141.6h9.8M243.4 141.6V145.4M243.4 153.2V157.0M238.5 157.0h9.8"/><circle cx="243.4" cy="149.3" r="3.9"/><path d="M251.7 141.2h9.8M256.6 141.2V145.6M256.6 153.4V157.8M251.7 157.8h9.8"/><circle cx="256.6" cy="149.5" r="3.9"/><path d="M261.7 134.4h9.8M266.6 134.4V142.0M266.6 149.8V157.3M261.7 157.3h9.8"/><circle cx="266.6" cy="145.9" r="3.9"/><path d="M272.3 139.3h9.8M277.2 139.3V144.8M277.2 152.6V158.0M272.3 158.0h9.8"/><circle cx="277.2" cy="148.7" r="3.9"/><path d="M280.9 135.4h9.8M285.8 135.4V141.5M285.8 149.3V155.3M280.9 155.3h9.8"/><circle cx="285.8" cy="145.4" r="3.9"/><path d="M288.6 133.0h9.8M293.5 133.0V140.1M293.5 147.9V155.0M288.6 155.0h9.8"/><circle cx="293.5" cy="144.0" r="3.9"/><path d="M300.8 131.8h9.8M305.7 131.8V140.4M305.7 148.2V156.8M300.8 156.8h9.8"/><circle cx="305.7" cy="144.3" r="3.9"/><path d="M311.2 133.5h9.8M316.1 133.5V143.0M316.1 150.8V160.3M311.2 160.3h9.8"/><circle cx="316.1" cy="146.9" r="3.9"/><path d="M319.2 134.6h9.8M324.1 134.6V142.8M324.1 150.6V158.7M319.2 158.7h9.8"/><circle cx="324.1" cy="146.7" r="3.9"/><path d="M329.1 133.0h9.8M334.0 133.0V139.8M334.0 147.6V154.4M329.1 154.4h9.8"/><circle cx="334.0" cy="143.7" r="3.9"/><path d="M334.8 138.2h9.8M339.7 138.2V145.0M339.7 152.8V159.7M334.8 159.7h9.8"/><circle cx="339.7" cy="148.9" r="3.9"/><path d="M344.5 126.8h9.8M349.4 126.8V136.1M349.4 143.9V153.2M344.5 153.2h9.8"/><circle cx="349.4" cy="140.0" r="3.9"/><path d="M353.9 135.0h9.8M358.8 135.0V143.7M358.8 151.5V160.2M353.9 160.2h9.8"/><circle cx="358.8" cy="147.6" r="3.9"/><path d="M360.7 131.1h9.8M365.6 131.1V137.3M365.6 145.1V151.2M360.7 151.2h9.8"/><circle cx="365.6" cy="141.2" r="3.9"/><path d="M370.8 131.4h9.8M375.7 131.4V138.6M375.7 146.4V153.7M370.8 153.7h9.8"/><circle cx="375.7" cy="142.5" r="3.9"/><path d="M377.8 133.7h9.8M382.7 133.7V140.7M382.7 148.5V155.6M377.8 155.6h9.8"/><circle cx="382.7" cy="144.6" r="3.9"/><path d="M385.9 132.1h9.8M390.8 132.1V138.8M390.8 146.6V153.3M385.9 153.3h9.8"/><circle cx="390.8" cy="142.7" r="3.9"/><path d="M395.4 135.8h9.8M400.3 135.8V141.6M400.3 149.4V155.3M395.4 155.3h9.8"/><circle cx="400.3" cy="145.5" r="3.9"/><path d="M405.7 129.2h9.8M410.6 129.2V133.8M410.6 141.6V146.2M405.7 146.2h9.8"/><circle cx="410.6" cy="137.7" r="3.9"/><path d="M411.9 136.8h9.8M416.8 136.8V142.6M416.8 150.4V156.2M411.9 156.2h9.8"/><circle cx="416.8" cy="146.5" r="3.9"/><path d="M421.1 135.2h9.8M426.0 135.2V139.5M426.0 147.3V151.6M421.1 151.6h9.8"/><circle cx="426.0" cy="143.4" r="3.9"/><path d="M428.2 126.2h9.8M433.1 126.2V134.6M433.1 142.4V150.8M428.2 150.8h9.8"/><circle cx="433.1" cy="138.5" r="3.9"/><path d="M439.6 122.0h9.8M444.5 122.0V129.4M444.5 137.2V144.6M439.6 144.6h9.8"/><circle cx="444.5" cy="133.3" r="3.9"/><path d="M447.1 127.2h9.8M452.0 127.2V132.0M452.0 139.8V144.6M447.1 144.6h9.8"/><circle cx="452.0" cy="135.9" r="3.9"/><path d="M457.4 135.2h9.8M462.3 135.2V143.9M462.3 151.7V160.4M457.4 160.4h9.8"/><circle cx="462.3" cy="147.8" r="3.9"/><path d="M463.9 133.6h9.8M468.8 133.6V141.6M468.8 149.4V157.3M463.9 157.3h9.8"/><circle cx="468.8" cy="145.5" r="3.9"/><path d="M472.6 132.9h9.8M477.5 132.9V136.7M477.5 144.5V148.2M472.6 148.2h9.8"/><circle cx="477.5" cy="140.6" r="3.9"/><path d="M481.2 116.5h9.8M486.1 116.5V125.9M486.1 133.7V143.1M481.2 143.1h9.8"/><circle cx="486.1" cy="129.8" r="3.9"/><path d="M490.4 131.7h9.8M495.3 131.7V139.5M495.3 147.3V155.1M490.4 155.1h9.8"/><circle cx="495.3" cy="143.4" r="3.9"/><path d="M499.5 121.6h9.8M504.4 121.6V131.3M504.4 139.1V148.8M499.5 148.8h9.8"/><circle cx="504.4" cy="135.2" r="3.9"/><path d="M507.5 121.8h9.8M512.4 121.8V126.6M512.4 134.4V139.1M507.5 139.1h9.8"/><circle cx="512.4" cy="130.5" r="3.9"/><path d="M514.6 118.2h9.8M519.5 118.2V125.6M519.5 133.4V140.8M514.6 140.8h9.8"/><circle cx="519.5" cy="129.5" r="3.9"/><path d="M521.9 126.3h9.8M526.8 126.3V133.5M526.8 141.3V148.5M521.9 148.5h9.8"/><circle cx="526.8" cy="137.4" r="3.9"/><path d="M533.1 126.4h9.8M538.0 126.4V133.3M538.0 141.1V148.0M533.1 148.0h9.8"/><circle cx="538.0" cy="137.2" r="3.9"/><path d="M539.7 126.0h9.8M544.6 126.0V132.8M544.6 140.6V147.5M539.7 147.5h9.8"/><circle cx="544.6" cy="136.7" r="3.9"/><path d="M547.0 125.8h9.8M551.9 125.8V134.0M551.9 141.8V150.0M547.0 150.0h9.8"/><circle cx="551.9" cy="137.9" r="3.9"/><path d="M552.1 124.1h9.8M557.0 124.1V128.5M557.0 136.3V140.6M552.1 140.6h9.8"/><circle cx="557.0" cy="132.4" r="3.9"/><path d="M554.6 121.3h9.8M559.5 121.3V126.1M559.5 133.9V138.6M554.6 138.6h9.8"/><circle cx="559.5" cy="130.0" r="3.9"/><path d="M559.8 122.8h9.8M564.7 122.8V127.3M564.7 135.1V139.6M559.8 139.6h9.8"/><circle cx="564.7" cy="131.2" r="3.9"/><path d="M565.5 126.9h9.8M570.4 126.9V132.7M570.4 140.5V146.3M565.5 146.3h9.8"/><circle cx="570.4" cy="136.6" r="3.9"/><path d="M569.7 145.2h9.8M574.6 145.2V150.9M574.6 158.7V164.4M569.7 164.4h9.8"/><circle cx="574.6" cy="154.8" r="3.9"/><path d="M575.9 120.0h9.8M580.8 120.0V127.1M580.8 134.9V142.1M575.9 142.1h9.8"/><circle cx="580.8" cy="131.0" r="3.9"/><path d="M579.6 131.0h9.8M584.5 131.0V138.0M584.5 145.8V152.8M579.6 152.8h9.8"/><circle cx="584.5" cy="141.9" r="3.9"/><path d="M585.1 124.0h9.8M590.0 124.0V130.6M590.0 138.4V145.0M585.1 145.0h9.8"/><circle cx="590.0" cy="134.5" r="3.9"/><path d="M588.7 120.4h9.8M593.6 120.4V126.0M593.6 133.8V139.3M588.7 139.3h9.8"/><circle cx="593.6" cy="129.9" r="3.9"/><path d="M595.7 131.8h9.8M600.6 131.8V137.7M600.6 145.5V151.5M595.7 151.5h9.8"/><circle cx="600.6" cy="141.6" r="3.9"/><path d="M599.5 124.2h9.8M604.4 124.2V132.3M604.4 140.1V148.1M599.5 148.1h9.8"/><circle cx="604.4" cy="136.2" r="3.9"/><path d="M604.7 126.3h9.8M609.6 126.3V134.0M609.6 141.8V149.5M604.7 149.5h9.8"/><circle cx="609.6" cy="137.9" r="3.9"/><path d="M609.0 126.5h9.8M613.9 126.5V133.2M613.9 141.0V147.8M609.0 147.8h9.8"/><circle cx="613.9" cy="137.1" r="3.9"/><path d="M619.9 138.4h9.8M624.8 138.4V144.5M624.8 152.3V158.4M619.9 158.4h9.8"/><circle cx="624.8" cy="148.4" r="3.9"/><path d="M626.2 135.6h9.8M631.1 135.6V144.5M631.1 152.3V161.2M626.2 161.2h9.8"/><circle cx="631.1" cy="148.4" r="3.9"/><path d="M632.6 138.8h9.8M637.5 138.8V144.5M637.5 152.3V158.0M632.6 158.0h9.8"/><circle cx="637.5" cy="148.4" r="3.9"/><path d="M638.9 136.9h9.8M643.8 136.9V144.5M643.8 152.3V159.9M638.9 159.9h9.8"/><circle cx="643.8" cy="148.4" r="3.9"/><path d="M645.2 134.1h9.8M650.1 134.1V142.4M650.1 150.2V158.5M645.2 158.5h9.8"/><circle cx="650.1" cy="146.3" r="3.9"/><path d="M650.5 145.7h9.8M655.4 145.7V151.9M655.4 159.7V165.9M650.5 165.9h9.8"/><circle cx="655.4" cy="155.8" r="3.9"/><path d="M654.7 150.5h9.8M659.6 150.5V158.3M659.6 166.1V173.9M654.7 173.9h9.8"/><circle cx="659.6" cy="162.2" r="3.9"/><path d="M658.9 181.8h9.8M663.8 181.8V186.7M663.8 194.5V199.4M658.9 199.4h9.8"/><circle cx="663.8" cy="190.6" r="3.9"/><path d="M663.2 181.8h9.8M668.1 181.8V189.9M668.1 197.7V205.8M663.2 205.8h9.8"/><circle cx="668.1" cy="193.8" r="3.9"/><path d="M667.4 185.1h9.8M672.3 185.1V192.0M672.3 199.8V206.7M667.4 206.7h9.8"/><circle cx="672.3" cy="195.9" r="3.9"/><path d="M671.6 200.5h9.8M676.5 200.5V204.7M676.5 212.5V216.7M671.6 216.7h9.8"/><circle cx="676.5" cy="208.6" r="3.9"/><path d="M674.9 222.4h9.8M679.8 222.4V230.0M679.8 237.8V245.4M674.9 245.4h9.8"/><circle cx="679.8" cy="233.9" r="3.9"/><path d="M680.8 238.4h9.8M685.7 238.4V243.7M685.7 251.5V256.8M680.8 256.8h9.8"/><circle cx="685.7" cy="247.6" r="3.9"/><path d="M677.8 243.1h9.8M682.7 243.1V251.6M682.7 259.4V267.9M677.8 267.9h9.8"/><circle cx="682.7" cy="255.5" r="3.9"/><path d="M683.7 248.0h9.8M688.6 248.0V253.6M688.6 261.4V267.0M683.7 267.0h9.8"/><circle cx="688.6" cy="257.5" r="3.9"/><path d="M688.6 240.7h9.8M693.5 240.7V250.6M693.5 258.4V268.3M688.6 268.3h9.8"/><circle cx="693.5" cy="254.5" r="3.9"/><path d="M693.5 274.0h9.8M698.4 274.0V283.9M698.4 291.7V301.6M693.5 301.6h9.8"/><circle cx="698.4" cy="287.8" r="3.9"/><path d="M690.6 290.5h9.8M695.5 290.5V301.6M695.5 309.4V320.5M690.6 320.5h9.8"/><circle cx="695.5" cy="305.5" r="3.9"/><path d="M694.5 314.9h9.8M699.4 314.9V332.0M699.4 339.8V356.9M694.5 356.9h9.8"/><circle cx="699.4" cy="335.9" r="3.9"/><path d="M655.1 163.6h9.8M660.0 163.6V166.1M660.0 173.9V176.4M655.1 176.4h9.8"/><circle cx="660.0" cy="170.0" r="3.9"/><path d="M665.1 187.8h9.8M670.0 187.8V196.1M670.0 203.9V212.2M665.1 212.2h9.8"/><circle cx="670.0" cy="200.0" r="3.9"/></g><g stroke="#1e961e" stroke-width="1" fill="none"><path d="M131.7 138.7h9.8M136.6 138.7V145.3M136.6 153.1V159.8M131.7 159.8h9.8"/><circle cx="136.6" cy="149.2" r="3.9"/><path d="M145.5 139.4h9.8M150.4 139.4V143.3M150.4 151.1V155.1M145.5 155.1h9.8"/><circle cx="150.4" cy="147.2" r="3.9"/><path d="M158.9 150.0h9.8M163.8 150.0V156.8M163.8 164.6V171.3M158.9 171.3h9.8"/><circle cx="163.8" cy="160.7" r="3.9"/><path d="M172.0 119.5h9.8M176.9 119.5V126.8M176.9 134.6V141.9M172.0 141.9h9.8"/><circle cx="176.9" cy="130.7" r="3.9"/><path d="M184.5 111.2h9.8M189.4 111.2V119.4M189.4 127.2V135.4M184.5 135.4h9.8"/><circle cx="189.4" cy="123.3" r="3.9"/><path d="M194.3 113.1h9.8M199.2 113.1V118.1M199.2 125.9V130.9M194.3 130.9h9.8"/><circle cx="199.2" cy="122.0" r="3.9"/><path d="M204.9 157.5h9.8M209.8 157.5V166.4M209.8 174.2V183.1M204.9 183.1h9.8"/><circle cx="209.8" cy="170.3" r="3.9"/><path d="M218.4 123.3h9.8M223.3 123.3V129.6M223.3 137.4V143.8M218.4 143.8h9.8"/><circle cx="223.3" cy="133.5" r="3.9"/><path d="M229.9 117.5h9.8M234.8 117.5V127.7M234.8 135.5V145.6M229.9 145.6h9.8"/><circle cx="234.8" cy="131.6" r="3.9"/><path d="M241.0 108.9h9.8M245.9 108.9V115.2M245.9 123.0V129.4M241.0 129.4h9.8"/><circle cx="245.9" cy="119.1" r="3.9"/><path d="M251.3 106.2h9.8M256.2 106.2V113.8M256.2 121.6V129.3M251.3 129.3h9.8"/><circle cx="256.2" cy="117.7" r="3.9"/><path d="M259.0 107.0h9.8M263.9 107.0V113.0M263.9 120.8V126.9M259.0 126.9h9.8"/><circle cx="263.9" cy="116.9" r="3.9"/><path d="M272.0 119.3h9.8M276.9 119.3V124.2M276.9 132.0V136.9M272.0 136.9h9.8"/><circle cx="276.9" cy="128.1" r="3.9"/><path d="M281.8 124.8h9.8M286.7 124.8V133.0M286.7 140.8V149.1M281.8 149.1h9.8"/><circle cx="286.7" cy="136.9" r="3.9"/><path d="M292.0 101.9h9.8M296.9 101.9V109.9M296.9 117.7V125.6M292.0 125.6h9.8"/><circle cx="296.9" cy="113.8" r="3.9"/><path d="M300.7 111.5h9.8M305.6 111.5V120.4M305.6 128.2V137.1M300.7 137.1h9.8"/><circle cx="305.6" cy="124.3" r="3.9"/><path d="M307.5 106.6h9.8M312.4 106.6V114.5M312.4 122.3V130.2M307.5 130.2h9.8"/><circle cx="312.4" cy="118.4" r="3.9"/><path d="M317.1 112.4h9.8M322.0 112.4V118.2M322.0 126.0V131.7M317.1 131.7h9.8"/><circle cx="322.0" cy="122.1" r="3.9"/><path d="M329.0 121.2h9.8M333.9 121.2V125.3M333.9 133.1V137.2M329.0 137.2h9.8"/><circle cx="333.9" cy="129.2" r="3.9"/><path d="M336.7 103.0h9.8M341.6 103.0V108.6M341.6 116.4V122.0M336.7 122.0h9.8"/><circle cx="341.6" cy="112.5" r="3.9"/><path d="M345.9 102.2h9.8M350.8 102.2V107.8M350.8 115.6V121.1M345.9 121.1h9.8"/><circle cx="350.8" cy="111.7" r="3.9"/><path d="M353.6 136.0h9.8M358.5 136.0V141.4M358.5 149.2V154.6M353.6 154.6h9.8"/><circle cx="358.5" cy="145.3" r="3.9"/><path d="M363.0 112.2h9.8M367.9 112.2V119.7M367.9 127.5V134.9M363.0 134.9h9.8"/><circle cx="367.9" cy="123.6" r="3.9"/><path d="M370.2 94.4h9.8M375.1 94.4V101.5M375.1 109.3V116.4M370.2 116.4h9.8"/><circle cx="375.1" cy="105.4" r="3.9"/><path d="M376.4 108.5h9.8M381.3 108.5V114.6M381.3 122.4V128.6M376.4 128.6h9.8"/><circle cx="381.3" cy="118.5" r="3.9"/><path d="M386.9 111.1h9.8M391.8 111.1V117.9M391.8 125.7V132.6M386.9 132.6h9.8"/><circle cx="391.8" cy="121.8" r="3.9"/><path d="M392.7 116.1h9.8M397.6 116.1V122.4M397.6 130.2V136.6M392.7 136.6h9.8"/><circle cx="397.6" cy="126.3" r="3.9"/><path d="M402.1 115.8h9.8M407.0 115.8V122.7M407.0 130.5V137.4M402.1 137.4h9.8"/><circle cx="407.0" cy="126.6" r="3.9"/><path d="M410.5 128.0h9.8M415.4 128.0V135.7M415.4 143.5V151.3M410.5 151.3h9.8"/><circle cx="415.4" cy="139.6" r="3.9"/><path d="M415.8 98.4h9.8M420.7 98.4V106.4M420.7 114.2V122.3M415.8 122.3h9.8"/><circle cx="420.7" cy="110.3" r="3.9"/><path d="M423.6 119.8h9.8M428.5 119.8V125.4M428.5 133.2V138.8M423.6 138.8h9.8"/><circle cx="428.5" cy="129.3" r="3.9"/><path d="M430.9 98.3h9.8M435.8 98.3V102.7M435.8 110.5V114.8M430.9 114.8h9.8"/><circle cx="435.8" cy="106.6" r="3.9"/><path d="M435.0 94.7h9.8M439.9 94.7V103.5M439.9 111.3V120.0M435.0 120.0h9.8"/><circle cx="439.9" cy="107.4" r="3.9"/><path d="M441.9 107.0h9.8M446.8 107.0V113.7M446.8 121.5V128.3M441.9 128.3h9.8"/><circle cx="446.8" cy="117.6" r="3.9"/><path d="M449.1 125.0h9.8M454.0 125.0V133.2M454.0 141.0V149.3M449.1 149.3h9.8"/><circle cx="454.0" cy="137.1" r="3.9"/><path d="M456.5 112.7h9.8M461.4 112.7V116.8M461.4 124.6V128.8M456.5 128.8h9.8"/><circle cx="461.4" cy="120.7" r="3.9"/><path d="M461.6 106.3h9.8M466.5 106.3V112.4M466.5 120.2V126.3M461.6 126.3h9.8"/><circle cx="466.5" cy="116.3" r="3.9"/><path d="M469.4 98.1h9.8M474.3 98.1V104.8M474.3 112.6V119.2M469.4 119.2h9.8"/><circle cx="474.3" cy="108.7" r="3.9"/><path d="M473.9 89.4h9.8M478.8 89.4V93.8M478.8 101.6V106.1M473.9 106.1h9.8"/><circle cx="478.8" cy="97.7" r="3.9"/><path d="M480.7 91.0h9.8M485.6 91.0V96.8M485.6 104.6V110.4M480.7 110.4h9.8"/><circle cx="485.6" cy="100.7" r="3.9"/><path d="M484.9 104.7h9.8M489.8 104.7V112.4M489.8 120.2V127.9M484.9 127.9h9.8"/><circle cx="489.8" cy="116.3" r="3.9"/><path d="M493.7 110.7h9.8M498.6 110.7V118.9M498.6 126.7V134.9M493.7 134.9h9.8"/><circle cx="498.6" cy="122.8" r="3.9"/><path d="M499.4 130.4h9.8M504.3 130.4V139.4M504.3 147.2V156.1M499.4 156.1h9.8"/><circle cx="504.3" cy="143.3" r="3.9"/><path d="M500.7 80.9h9.8M505.6 80.9V86.2M505.6 94.0V99.3M500.7 99.3h9.8"/><circle cx="505.6" cy="90.1" r="3.9"/><path d="M509.5 107.9h9.8M514.4 107.9V112.4M514.4 120.2V124.7M509.5 124.7h9.8"/><circle cx="514.4" cy="116.3" r="3.9"/><path d="M512.4 98.1h9.8M517.3 98.1V105.4M517.3 113.2V120.6M512.4 120.6h9.8"/><circle cx="517.3" cy="109.3" r="3.9"/><path d="M519.4 104.8h9.8M524.3 104.8V112.8M524.3 120.6V128.6M519.4 128.6h9.8"/><circle cx="524.3" cy="116.7" r="3.9"/><path d="M521.5 91.2h9.8M526.4 91.2V98.1M526.4 105.9V112.8M521.5 112.8h9.8"/><circle cx="526.4" cy="102.0" r="3.9"/><path d="M527.7 93.8h9.8M532.6 93.8V98.4M532.6 106.2V110.9M527.7 110.9h9.8"/><circle cx="532.6" cy="102.3" r="3.9"/><path d="M534.5 106.5h9.8M539.4 106.5V114.3M539.4 122.1V129.8M534.5 129.8h9.8"/><circle cx="539.4" cy="118.2" r="3.9"/><path d="M537.7 103.9h9.8M542.6 103.9V114.6M542.6 122.4V133.2M537.7 133.2h9.8"/><circle cx="542.6" cy="118.5" r="3.9"/><path d="M543.4 83.5h9.8M548.3 83.5V93.7M548.3 101.5V111.7M543.4 111.7h9.8"/><circle cx="548.3" cy="97.6" r="3.9"/><path d="M547.6 77.9h9.8M552.5 77.9V86.4M552.5 94.2V102.7M547.6 102.7h9.8"/><circle cx="552.5" cy="90.3" r="3.9"/><path d="M550.2 84.6h9.8M555.1 84.6V94.8M555.1 102.6V112.9M550.2 112.9h9.8"/><circle cx="555.1" cy="98.7" r="3.9"/><path d="M554.4 82.9h9.8M559.3 82.9V92.5M559.3 100.3V109.9M554.4 109.9h9.8"/><circle cx="559.3" cy="96.4" r="3.9"/><path d="M558.4 80.0h9.8M563.3 80.0V88.5M563.3 96.3V104.7M558.4 104.7h9.8"/><circle cx="563.3" cy="92.4" r="3.9"/><path d="M562.2 86.2h9.8M567.1 86.2V95.2M567.1 103.0V111.9M562.2 111.9h9.8"/><circle cx="567.1" cy="99.1" r="3.9"/><path d="M566.3 74.6h9.8M571.2 74.6V87.4M571.2 95.2V108.0M566.3 108.0h9.8"/><circle cx="571.2" cy="91.3" r="3.9"/><path d="M572.2 70.1h9.8M577.1 70.1V83.8M577.1 91.6V105.3M572.2 105.3h9.8"/><circle cx="577.1" cy="87.7" r="3.9"/><path d="M576.8 91.1h9.8M581.7 91.1V102.3M581.7 110.1V121.3M576.8 121.3h9.8"/><circle cx="581.7" cy="106.2" r="3.9"/><path d="M580.5 86.3h9.8M585.4 86.3V99.4M585.4 107.2V120.4M580.5 120.4h9.8"/><circle cx="585.4" cy="103.3" r="3.9"/><path d="M585.5 66.2h9.8M590.4 66.2V75.6M590.4 83.4V92.7M585.5 92.7h9.8"/><circle cx="590.4" cy="79.5" r="3.9"/><path d="M587.6 78.1h9.8M592.5 78.1V88.7M592.5 96.5V107.0M587.6 107.0h9.8"/><circle cx="592.5" cy="92.6" r="3.9"/><path d="M594.2 54.2h9.8M599.1 54.2V64.9M599.1 72.7V83.3M594.2 83.3h9.8"/><circle cx="599.1" cy="68.8" r="3.9"/><path d="M596.2 58.6h9.8M601.1 58.6V67.8M601.1 75.6V84.8M596.2 84.8h9.8"/><circle cx="601.1" cy="71.7" r="3.9"/><path d="M599.7 71.5h9.8M604.6 71.5V78.3M604.6 86.1V92.8M599.7 92.8h9.8"/><circle cx="604.6" cy="82.2" r="3.9"/><path d="M606.2 64.3h9.8M611.1 64.3V73.1M611.1 80.9V89.7M606.2 89.7h9.8"/><circle cx="611.1" cy="77.0" r="3.9"/><path d="M608.2 71.2h9.8M613.1 71.2V79.3M613.1 87.1V95.2M608.2 95.2h9.8"/><circle cx="613.1" cy="83.2" r="3.9"/><path d="M612.3 55.1h9.8M617.2 55.1V66.4M617.2 74.2V85.5M612.3 85.5h9.8"/><circle cx="617.2" cy="70.3" r="3.9"/><path d="M617.5 66.1h9.8M622.4 66.1V73.0M622.4 80.8V87.7M617.5 87.7h9.8"/><circle cx="622.4" cy="76.9" r="3.9"/><path d="M623.5 73.1h9.8M628.4 73.1V84.4M628.4 92.2V103.6M623.5 103.6h9.8"/><circle cx="628.4" cy="88.3" r="3.9"/><path d="M627.4 79.9h9.8M632.3 79.9V86.5M632.3 94.3V101.0M627.4 101.0h9.8"/><circle cx="632.3" cy="90.4" r="3.9"/><path d="M631.7 63.2h9.8M636.6 63.2V71.6M636.6 79.4V87.7M631.7 87.7h9.8"/><circle cx="636.6" cy="75.5" r="3.9"/><path d="M617.1 40.0h9.8M622.0 40.0V48.9M622.0 56.7V65.6M617.1 65.6h9.8"/><circle cx="622.0" cy="52.8" r="3.9"/><path d="M592.1 46.8h9.8M597.0 46.8V56.9M597.0 64.7V74.8M592.1 74.8h9.8"/><circle cx="597.0" cy="60.8" r="3.9"/><path d="M627.9 77.1h9.8M632.8 77.1V88.5M632.8 96.3V107.7M627.9 107.7h9.8"/><circle cx="632.8" cy="92.4" r="3.9"/><path d="M636.9 89.2h9.8M641.8 89.2V97.4M641.8 105.2V113.4M636.9 113.4h9.8"/><circle cx="641.8" cy="101.3" r="3.9"/><path d="M643.1 114.5h9.8M648.0 114.5V123.0M648.0 130.8V139.3M643.1 139.3h9.8"/><circle cx="648.0" cy="126.9" r="3.9"/><path d="M649.1 117.8h9.8M654.0 117.8V129.1M654.0 136.9V148.2M649.1 148.2h9.8"/><circle cx="654.0" cy="133.0" r="3.9"/><path d="M655.1 99.7h9.8M660.0 99.7V109.9M660.0 117.7V127.9M655.1 127.9h9.8"/><circle cx="660.0" cy="113.8" r="3.9"/><path d="M660.5 124.4h9.8M665.4 124.4V133.0M665.4 140.8V149.4M660.5 149.4h9.8"/><circle cx="665.4" cy="136.9" r="3.9"/><path d="M664.2 150.7h9.8M669.1 150.7V158.3M669.1 166.1V173.7M664.2 173.7h9.8"/><circle cx="669.1" cy="162.2" r="3.9"/><path d="M665.7 151.6h9.8M670.6 151.6V159.7M670.6 167.5V175.6M665.7 175.6h9.8"/><circle cx="670.6" cy="163.6" r="3.9"/><path d="M669.5 148.1h9.8M674.4 148.1V155.6M674.4 163.4V170.9M669.5 170.9h9.8"/><circle cx="674.4" cy="159.5" r="3.9"/><path d="M673.7 166.4h9.8M678.6 166.4V177.2M678.6 185.0V195.8M673.7 195.8h9.8"/><circle cx="678.6" cy="181.1" r="3.9"/><path d="M677.0 158.8h9.8M681.9 158.8V168.7M681.9 176.5V186.4M677.0 186.4h9.8"/><circle cx="681.9" cy="172.6" r="3.9"/><path d="M679.0 173.0h9.8M683.9 173.0V177.2M683.9 185.0V189.2M679.0 189.2h9.8"/><circle cx="683.9" cy="181.1" r="3.9"/><path d="M682.1 164.1h9.8M687.0 164.1V176.1M687.0 183.9V195.9M682.1 195.9h9.8"/><circle cx="687.0" cy="180.0" r="3.9"/><path d="M685.1 189.1h9.8M690.0 189.1V200.6M690.0 208.4V219.9M685.1 219.9h9.8"/><circle cx="690.0" cy="204.5" r="3.9"/><path d="M687.3 235.5h9.8M692.2 235.5V247.4M692.2 255.2V267.1M687.3 267.1h9.8"/><circle cx="692.2" cy="251.3" r="3.9"/><path d="M689.6 224.6h9.8M694.5 224.6V236.3M694.5 244.1V255.8M689.6 255.8h9.8"/><circle cx="694.5" cy="240.2" r="3.9"/><path d="M692.6 232.3h9.8M697.5 232.3V238.8M697.5 246.6V253.1M692.6 253.1h9.8"/><circle cx="697.5" cy="242.7" r="3.9"/><path d="M694.5 228.1h9.8M699.4 228.1V234.9M699.4 242.7V249.5M694.5 249.5h9.8"/><circle cx="699.4" cy="238.8" r="3.9"/><path d="M697.5 256.5h9.8M702.4 256.5V267.3M702.4 275.1V285.9M697.5 285.9h9.8"/><circle cx="702.4" cy="271.2" r="3.9"/><path d="M700.4 245.1h9.8M705.3 245.1V250.6M705.3 258.4V263.9M700.4 263.9h9.8"/><circle cx="705.3" cy="254.5" r="3.9"/><path d="M647.1 105.7h9.8M652.0 105.7V116.1M652.0 123.9V134.3M647.1 134.3h9.8"/><circle cx="652.0" cy="120.0" r="3.9"/><path d="M671.1 159.1h9.8M676.0 159.1V166.1M676.0 173.9V180.9M671.1 180.9h9.8"/><circle cx="676.0" cy="170.0" r="3.9"/></g><g stroke="#ee8a22" stroke-width="1" fill="none"><path d="M135.4 103.6h9.8M140.3 103.6V111.7M140.3 119.5V127.7M135.4 127.7h9.8"/><circle cx="140.3" cy="115.6" r="3.9"/><path d="M144.5 109.5h9.8M149.4 109.5V119.2M149.4 127.0V136.7M144.5 136.7h9.8"/><circle cx="149.4" cy="123.1" r="3.9"/><path d="M159.7 99.3h9.8M164.6 99.3V108.9M164.6 116.7V126.3M159.7 126.3h9.8"/><circle cx="164.6" cy="112.8" r="3.9"/><path d="M171.6 118.6h9.8M176.5 118.6V124.9M176.5 132.7V139.0M171.6 139.0h9.8"/><circle cx="176.5" cy="128.8" r="3.9"/><path d="M182.2 130.6h9.8M187.1 130.6V137.6M187.1 145.4V152.4M182.2 152.4h9.8"/><circle cx="187.1" cy="141.5" r="3.9"/><path d="M193.3 118.2h9.8M198.2 118.2V124.5M198.2 132.3V138.7M193.3 138.7h9.8"/><circle cx="198.2" cy="128.4" r="3.9"/><path d="M206.2 105.8h9.8M211.1 105.8V113.9M211.1 121.7V129.8M206.2 129.8h9.8"/><circle cx="211.1" cy="117.8" r="3.9"/><path d="M218.5 114.3h9.8M223.4 114.3V122.4M223.4 130.2V138.4M218.5 138.4h9.8"/><circle cx="223.4" cy="126.3" r="3.9"/><path d="M230.5 108.2h9.8M235.4 108.2V114.9M235.4 122.7V129.4M230.5 129.4h9.8"/><circle cx="235.4" cy="118.8" r="3.9"/><path d="M238.6 122.5h9.8M243.5 122.5V127.1M243.5 134.9V139.5M238.6 139.5h9.8"/><circle cx="243.5" cy="131.0" r="3.9"/><path d="M250.3 102.4h9.8M255.2 102.4V110.1M255.2 117.9V125.6M250.3 125.6h9.8"/><circle cx="255.2" cy="114.0" r="3.9"/><path d="M259.1 110.6h9.8M264.0 110.6V116.5M264.0 124.3V130.2M259.1 130.2h9.8"/><circle cx="264.0" cy="120.4" r="3.9"/><path d="M269.5 113.2h9.8M274.4 113.2V120.7M274.4 128.5V136.1M269.5 136.1h9.8"/><circle cx="274.4" cy="124.6" r="3.9"/><path d="M279.5 99.3h9.8M284.4 99.3V106.3M284.4 114.1V121.1M279.5 121.1h9.8"/><circle cx="284.4" cy="110.2" r="3.9"/><path d="M292.0 110.9h9.8M296.9 110.9V120.0M296.9 127.8V136.8M292.0 136.8h9.8"/><circle cx="296.9" cy="123.9" r="3.9"/><path d="M298.6 101.7h9.8M303.5 101.7V110.0M303.5 117.8V126.1M298.6 126.1h9.8"/><circle cx="303.5" cy="113.9" r="3.9"/><path d="M308.2 110.1h9.8M313.1 110.1V116.0M313.1 123.8V129.7M308.2 129.7h9.8"/><circle cx="313.1" cy="119.9" r="3.9"/><path d="M317.0 105.8h9.8M321.9 105.8V112.9M321.9 120.7V127.9M317.0 127.9h9.8"/><circle cx="321.9" cy="116.8" r="3.9"/><path d="M326.6 98.1h9.8M331.5 98.1V107.4M331.5 115.2V124.4M326.6 124.4h9.8"/><circle cx="331.5" cy="111.3" r="3.9"/><path d="M338.0 112.2h9.8M342.9 112.2V118.0M342.9 125.8V131.6M338.0 131.6h9.8"/><circle cx="342.9" cy="121.9" r="3.9"/><path d="M346.2 91.4h9.8M351.1 91.4V98.6M351.1 106.4V113.7M346.2 113.7h9.8"/><circle cx="351.1" cy="102.5" r="3.9"/><path d="M353.8 101.8h9.8M358.7 101.8V110.2M358.7 118.0V126.3M353.8 126.3h9.8"/><circle cx="358.7" cy="114.1" r="3.9"/><path d="M361.5 94.7h9.8M366.4 94.7V103.2M366.4 111.0V119.5M361.5 119.5h9.8"/><circle cx="366.4" cy="107.1" r="3.9"/><path d="M369.3 99.4h9.8M374.2 99.4V106.8M374.2 114.6V121.9M369.3 121.9h9.8"/><circle cx="374.2" cy="110.7" r="3.9"/><path d="M380.0 105.8h9.8M384.9 105.8V110.4M384.9 118.2V122.8M380.0 122.8h9.8"/><circle cx="384.9" cy="114.3" r="3.9"/><path d="M386.5 105.2h9.8M391.4 105.2V109.9M391.4 117.7V122.4M386.5 122.4h9.8"/><circle cx="391.4" cy="113.8" r="3.9"/><path d="M395.1 96.3h9.8M400.0 96.3V103.3M400.0 111.1V118.0M395.1 118.0h9.8"/><circle cx="400.0" cy="107.2" r="3.9"/><path d="M400.2 100.9h9.8M405.1 100.9V108.1M405.1 115.9V123.1M400.2 123.1h9.8"/><circle cx="405.1" cy="112.0" r="3.9"/><path d="M408.2 69.7h9.8M413.1 69.7V80.1M413.1 87.9V98.4M408.2 98.4h9.8"/><circle cx="413.1" cy="84.0" r="3.9"/><path d="M417.2 101.8h9.8M422.1 101.8V107.1M422.1 114.9V120.2M417.2 120.2h9.8"/><circle cx="422.1" cy="111.0" r="3.9"/><path d="M424.4 93.1h9.8M429.3 93.1V101.4M429.3 109.2V117.5M424.4 117.5h9.8"/><circle cx="429.3" cy="105.3" r="3.9"/><path d="M430.7 91.5h9.8M435.6 91.5V99.3M435.6 107.1V114.8M430.7 114.8h9.8"/><circle cx="435.6" cy="103.2" r="3.9"/><path d="M438.2 83.1h9.8M443.1 83.1V87.1M443.1 94.9V99.0M438.2 99.0h9.8"/><circle cx="443.1" cy="91.0" r="3.9"/><path d="M441.3 95.3h9.8M446.2 95.3V100.6M446.2 108.4V113.8M441.3 113.8h9.8"/><circle cx="446.2" cy="104.5" r="3.9"/><path d="M449.4 106.4h9.8M454.3 106.4V113.3M454.3 121.1V127.9M449.4 127.9h9.8"/><circle cx="454.3" cy="117.2" r="3.9"/><path d="M457.7 85.0h9.8M462.6 85.0V90.8M462.6 98.6V104.5M457.7 104.5h9.8"/><circle cx="462.6" cy="94.7" r="3.9"/><path d="M464.4 91.7h9.8M469.3 91.7V98.1M469.3 105.9V112.2M464.4 112.2h9.8"/><circle cx="469.3" cy="102.0" r="3.9"/><path d="M467.3 94.9h9.8M472.2 94.9V102.2M472.2 110.0V117.3M467.3 117.3h9.8"/><circle cx="472.2" cy="106.1" r="3.9"/><path d="M474.8 83.5h9.8M479.7 83.5V88.9M479.7 96.7V102.1M474.8 102.1h9.8"/><circle cx="479.7" cy="92.8" r="3.9"/><path d="M481.5 70.8h9.8M486.4 70.8V78.1M486.4 85.9V93.2M481.5 93.2h9.8"/><circle cx="486.4" cy="82.0" r="3.9"/><path d="M487.0 92.7h9.8M491.9 92.7V98.3M491.9 106.1V111.8M487.0 111.8h9.8"/><circle cx="491.9" cy="102.2" r="3.9"/><path d="M492.3 81.6h9.8M497.2 81.6V87.4M497.2 95.2V101.0M492.3 101.0h9.8"/><circle cx="497.2" cy="91.3" r="3.9"/><path d="M495.8 91.1h9.8M500.7 91.1V98.5M500.7 106.3V113.7M495.8 113.7h9.8"/><circle cx="500.7" cy="102.4" r="3.9"/><path d="M504.3 84.8h9.8M509.2 84.8V90.5M509.2 98.3V104.1M504.3 104.1h9.8"/><circle cx="509.2" cy="94.4" r="3.9"/><path d="M508.2 88.2h9.8M513.1 88.2V95.3M513.1 103.1V110.1M508.2 110.1h9.8"/><circle cx="513.1" cy="99.2" r="3.9"/><path d="M511.7 92.2h9.8M516.6 92.2V101.2M516.6 109.0V118.0M511.7 118.0h9.8"/><circle cx="516.6" cy="105.1" r="3.9"/><path d="M518.2 88.5h9.8M523.1 88.5V95.2M523.1 103.0V109.6M518.2 109.6h9.8"/><circle cx="523.1" cy="99.1" r="3.9"/><path d="M520.9 85.9h9.8M525.8 85.9V92.3M525.8 100.1V106.5M520.9 106.5h9.8"/><circle cx="525.8" cy="96.2" r="3.9"/><path d="M527.7 80.9h9.8M532.6 80.9V88.6M532.6 96.4V104.1M527.7 104.1h9.8"/><circle cx="532.6" cy="92.5" r="3.9"/><path d="M531.5 85.7h9.8M536.4 85.7V91.8M536.4 99.6V105.6M531.5 105.6h9.8"/><circle cx="536.4" cy="95.7" r="3.9"/><path d="M538.0 96.8h9.8M542.9 96.8V103.9M542.9 111.7V118.7M538.0 118.7h9.8"/><circle cx="542.9" cy="107.8" r="3.9"/><path d="M542.5 88.4h9.8M547.4 88.4V97.0M547.4 104.8V113.3M542.5 113.3h9.8"/><circle cx="547.4" cy="100.9" r="3.9"/><path d="M549.5 72.2h9.8M554.4 72.2V85.3M554.4 93.1V106.3M549.5 106.3h9.8"/><circle cx="554.4" cy="89.2" r="3.9"/><path d="M552.5 69.1h9.8M557.4 69.1V82.2M557.4 90.0V103.2M552.5 103.2h9.8"/><circle cx="557.4" cy="86.1" r="3.9"/><path d="M556.6 85.1h9.8M561.5 85.1V97.6M561.5 105.4V117.9M556.6 117.9h9.8"/><circle cx="561.5" cy="101.5" r="3.9"/><path d="M563.5 108.4h9.8M568.4 108.4V120.4M568.4 128.2V140.2M563.5 140.2h9.8"/><circle cx="568.4" cy="124.3" r="3.9"/><path d="M566.9 98.8h9.8M571.8 98.8V108.2M571.8 116.0V125.3M566.9 125.3h9.8"/><circle cx="571.8" cy="112.1" r="3.9"/><path d="M573.3 84.9h9.8M578.2 84.9V99.5M578.2 107.3V121.8M573.3 121.8h9.8"/><circle cx="578.2" cy="103.4" r="3.9"/><path d="M577.3 88.8h9.8M582.2 88.8V97.6M582.2 105.4V114.2M577.3 114.2h9.8"/><circle cx="582.2" cy="101.5" r="3.9"/><path d="M584.3 101.4h9.8M589.2 101.4V111.9M589.2 119.7V130.2M584.3 130.2h9.8"/><circle cx="589.2" cy="115.8" r="3.9"/><path d="M586.6 96.7h9.8M591.5 96.7V106.7M591.5 114.5V124.4M586.6 124.4h9.8"/><circle cx="591.5" cy="110.6" r="3.9"/><path d="M592.3 91.8h9.8M597.2 91.8V100.7M597.2 108.5V117.4M592.3 117.4h9.8"/><circle cx="597.2" cy="104.6" r="3.9"/><path d="M598.4 92.5h9.8M603.3 92.5V105.0M603.3 112.8V125.3M598.4 125.3h9.8"/><circle cx="603.3" cy="108.9" r="3.9"/><path d="M603.6 104.6h9.8M608.5 104.6V116.2M608.5 124.0V135.7M603.6 135.7h9.8"/><circle cx="608.5" cy="120.1" r="3.9"/><path d="M607.7 101.7h9.8M612.6 101.7V108.5M612.6 116.3V123.2M607.7 123.2h9.8"/><circle cx="612.6" cy="112.4" r="3.9"/><path d="M611.9 118.2h9.8M616.8 118.2V125.8M616.8 133.6V141.1M611.9 141.1h9.8"/><circle cx="616.8" cy="129.7" r="3.9"/><path d="M618.9 94.7h9.8M623.8 94.7V105.2M623.8 113.0V123.5M618.9 123.5h9.8"/><circle cx="623.8" cy="109.1" r="3.9"/><path d="M623.7 101.3h9.8M628.6 101.3V111.9M628.6 119.7V130.3M623.7 130.3h9.8"/><circle cx="628.6" cy="115.8" r="3.9"/><path d="M626.8 109.9h9.8M631.7 109.9V116.3M631.7 124.1V130.5M626.8 130.5h9.8"/><circle cx="631.7" cy="120.2" r="3.9"/><path d="M631.4 98.4h9.8M636.3 98.4V104.1M636.3 111.9V117.7M631.4 117.7h9.8"/><circle cx="636.3" cy="108.0" r="3.9"/><path d="M636.5 89.9h9.8M641.4 89.9V98.0M641.4 105.8V113.9M636.5 113.9h9.8"/><circle cx="641.4" cy="101.9" r="3.9"/><path d="M644.4 113.0h9.8M649.3 113.0V122.7M649.3 130.5V140.2M644.4 140.2h9.8"/><circle cx="649.3" cy="126.6" r="3.9"/><path d="M528.1 49.7h9.8M533.0 49.7V57.1M533.0 64.9V72.3M528.1 72.3h9.8"/><circle cx="533.0" cy="61.0" r="3.9"/></g><g stroke="#dc2228" stroke-width="1" fill="none"><path d="M132.2 123.7h9.8M137.1 123.7V129.8M137.1 137.6V143.6M132.2 143.6h9.8"/><circle cx="137.1" cy="133.7" r="3.9"/><path d="M148.2 129.3h9.8M153.1 129.3V135.9M153.1 143.7V150.3M148.2 150.3h9.8"/><circle cx="153.1" cy="139.8" r="3.9"/><path d="M157.4 128.4h9.8M162.3 128.4V134.2M162.3 142.0V147.7M157.4 147.7h9.8"/><circle cx="162.3" cy="138.1" r="3.9"/><path d="M170.6 124.2h9.8M175.5 124.2V130.9M175.5 138.7V145.5M170.6 145.5h9.8"/><circle cx="175.5" cy="134.8" r="3.9"/><path d="M184.6 133.6h9.8M189.5 133.6V138.4M189.5 146.2V151.1M184.6 151.1h9.8"/><circle cx="189.5" cy="142.3" r="3.9"/><path d="M196.7 111.5h9.8M201.6 111.5V118.2M201.6 126.0V132.7M196.7 132.7h9.8"/><circle cx="201.6" cy="122.1" r="3.9"/><path d="M208.0 119.7h9.8M212.9 119.7V123.4M212.9 131.2V134.9M208.0 134.9h9.8"/><circle cx="212.9" cy="127.3" r="3.9"/><path d="M219.3 123.6h9.8M224.2 123.6V129.4M224.2 137.2V143.1M219.3 143.1h9.8"/><circle cx="224.2" cy="133.3" r="3.9"/><path d="M229.6 126.5h9.8M234.5 126.5V136.0M234.5 143.8V153.2M229.6 153.2h9.8"/><circle cx="234.5" cy="139.9" r="3.9"/><path d="M238.9 119.0h9.8M243.8 119.0V125.7M243.8 133.5V140.3M238.9 140.3h9.8"/><circle cx="243.8" cy="129.6" r="3.9"/><path d="M249.5 115.4h9.8M254.4 115.4V120.1M254.4 127.9V132.6M249.5 132.6h9.8"/><circle cx="254.4" cy="124.0" r="3.9"/><path d="M258.4 119.6h9.8M263.3 119.6V126.6M263.3 134.4V141.4M258.4 141.4h9.8"/><circle cx="263.3" cy="130.5" r="3.9"/><path d="M269.7 103.6h9.8M274.6 103.6V108.8M274.6 116.6V121.7M269.7 121.7h9.8"/><circle cx="274.6" cy="112.7" r="3.9"/><path d="M279.1 133.9h9.8M284.0 133.9V138.0M284.0 145.8V149.9M279.1 149.9h9.8"/><circle cx="284.0" cy="141.9" r="3.9"/><path d="M292.3 116.7h9.8M297.2 116.7V122.2M297.2 130.0V135.5M292.3 135.5h9.8"/><circle cx="297.2" cy="126.1" r="3.9"/><path d="M301.3 119.7h9.8M306.2 119.7V127.4M306.2 135.2V142.9M301.3 142.9h9.8"/><circle cx="306.2" cy="131.3" r="3.9"/><path d="M310.7 109.3h9.8M315.6 109.3V116.5M315.6 124.3V131.4M310.7 131.4h9.8"/><circle cx="315.6" cy="120.4" r="3.9"/><path d="M318.5 113.2h9.8M323.4 113.2V119.6M323.4 127.4V133.9M318.5 133.9h9.8"/><circle cx="323.4" cy="123.5" r="3.9"/><path d="M327.1 117.7h9.8M332.0 117.7V122.9M332.0 130.7V135.9M327.1 135.9h9.8"/><circle cx="332.0" cy="126.8" r="3.9"/><path d="M336.0 109.2h9.8M340.9 109.2V114.2M340.9 122.0V127.0M336.0 127.0h9.8"/><circle cx="340.9" cy="118.1" r="3.9"/><path d="M346.8 116.2h9.8M351.7 116.2V124.8M351.7 132.6V141.3M346.8 141.3h9.8"/><circle cx="351.7" cy="128.7" r="3.9"/><path d="M354.9 109.9h9.8M359.8 109.9V116.8M359.8 124.6V131.6M354.9 131.6h9.8"/><circle cx="359.8" cy="120.7" r="3.9"/><path d="M363.1 111.4h9.8M368.0 111.4V116.6M368.0 124.4V129.6M363.1 129.6h9.8"/><circle cx="368.0" cy="120.5" r="3.9"/><path d="M368.4 110.9h9.8M373.3 110.9V114.4M373.3 122.2V125.6M368.4 125.6h9.8"/><circle cx="373.3" cy="118.3" r="3.9"/><path d="M379.8 107.4h9.8M384.7 107.4V112.0M384.7 119.8V124.3M379.8 124.3h9.8"/><circle cx="384.7" cy="115.9" r="3.9"/><path d="M387.6 116.4h9.8M392.5 116.4V126.7M392.5 134.5V144.8M387.6 144.8h9.8"/><circle cx="392.5" cy="130.6" r="3.9"/><path d="M393.0 103.3h9.8M397.9 103.3V108.1M397.9 115.9V120.8M393.0 120.8h9.8"/><circle cx="397.9" cy="112.0" r="3.9"/><path d="M401.7 125.7h9.8M406.6 125.7V132.1M406.6 139.9V146.4M401.7 146.4h9.8"/><circle cx="406.6" cy="136.0" r="3.9"/><path d="M407.6 99.8h9.8M412.5 99.8V106.7M412.5 114.5V121.4M407.6 121.4h9.8"/><circle cx="412.5" cy="110.6" r="3.9"/><path d="M414.9 92.6h9.8M419.8 92.6V99.0M419.8 106.8V113.1M414.9 113.1h9.8"/><circle cx="419.8" cy="102.9" r="3.9"/><path d="M420.9 100.0h9.8M425.8 100.0V106.1M425.8 113.9V120.1M420.9 120.1h9.8"/><circle cx="425.8" cy="110.0" r="3.9"/><path d="M430.4 78.4h9.8M435.3 78.4V82.9M435.3 90.7V95.2M430.4 95.2h9.8"/><circle cx="435.3" cy="86.8" r="3.9"/><path d="M438.4 103.2h9.8M443.3 103.2V108.2M443.3 116.0V121.0M438.4 121.0h9.8"/><circle cx="443.3" cy="112.1" r="3.9"/><path d="M443.2 92.4h9.8M448.1 92.4V101.5M448.1 109.3V118.5M443.2 118.5h9.8"/><circle cx="448.1" cy="105.4" r="3.9"/><path d="M451.7 102.7h9.8M456.6 102.7V108.1M456.6 115.9V121.4M451.7 121.4h9.8"/><circle cx="456.6" cy="112.0" r="3.9"/><path d="M455.3 88.4h9.8M460.2 88.4V96.3M460.2 104.1V112.0M455.3 112.0h9.8"/><circle cx="460.2" cy="100.2" r="3.9"/><path d="M462.3 72.7h9.8M467.2 72.7V76.7M467.2 84.5V88.6M462.3 88.6h9.8"/><circle cx="467.2" cy="80.6" r="3.9"/><path d="M467.4 92.2h9.8M472.3 92.2V98.4M472.3 106.2V112.4M467.4 112.4h9.8"/><circle cx="472.3" cy="102.3" r="3.9"/><path d="M475.9 88.3h9.8M480.8 88.3V95.3M480.8 103.1V110.1M475.9 110.1h9.8"/><circle cx="480.8" cy="99.2" r="3.9"/><path d="M481.7 70.3h9.8M486.6 70.3V78.4M486.6 86.2V94.4M481.7 94.4h9.8"/><circle cx="486.6" cy="82.3" r="3.9"/><path d="M486.8 86.5h9.8M491.7 86.5V91.4M491.7 99.2V104.1M486.8 104.1h9.8"/><circle cx="491.7" cy="95.3" r="3.9"/><path d="M491.5 94.6h9.8M496.4 94.6V102.1M496.4 109.9V117.4M491.5 117.4h9.8"/><circle cx="496.4" cy="106.0" r="3.9"/><path d="M498.8 92.3h9.8M503.7 92.3V99.5M503.7 107.3V114.5M498.8 114.5h9.8"/><circle cx="503.7" cy="103.4" r="3.9"/><path d="M503.7 90.9h9.8M508.6 90.9V96.4M508.6 104.2V109.7M503.7 109.7h9.8"/><circle cx="508.6" cy="100.3" r="3.9"/><path d="M506.6 88.1h9.8M511.5 88.1V95.4M511.5 103.2V110.5M506.6 110.5h9.8"/><circle cx="511.5" cy="99.3" r="3.9"/><path d="M512.9 88.1h9.8M517.8 88.1V93.4M517.8 101.2V106.4M512.9 106.4h9.8"/><circle cx="517.8" cy="97.3" r="3.9"/><path d="M516.9 106.4h9.8M521.8 106.4V111.8M521.8 119.6V125.0M516.9 125.0h9.8"/><circle cx="521.8" cy="115.7" r="3.9"/><path d="M527.1 82.4h9.8M532.0 82.4V89.0M532.0 96.8V103.4M527.1 103.4h9.8"/><circle cx="532.0" cy="92.9" r="3.9"/><path d="M531.7 92.5h9.8M536.6 92.5V95.0M536.6 102.8V105.4M531.7 105.4h9.8"/><circle cx="536.6" cy="98.9" r="3.9"/><path d="M540.1 86.6h9.8M545.0 86.6V93.1M545.0 100.9V107.3M540.1 107.3h9.8"/><circle cx="545.0" cy="97.0" r="3.9"/><path d="M548.5 78.6h9.8M553.4 78.6V83.7M553.4 91.5V96.6M548.5 96.6h9.8"/><circle cx="553.4" cy="87.6" r="3.9"/><path d="M554.8 88.1h9.8M559.7 88.1V92.5M559.7 100.3V104.7M554.8 104.7h9.8"/><circle cx="559.7" cy="96.4" r="3.9"/><path d="M563.1 70.9h9.8M568.0 70.9V81.0M568.0 88.8V98.9M563.1 98.9h9.8"/><circle cx="568.0" cy="84.9" r="3.9"/><path d="M571.5 61.1h9.8M576.4 61.1V72.2M576.4 80.0V91.2M571.5 91.2h9.8"/><circle cx="576.4" cy="76.1" r="3.9"/><path d="M578.3 93.2h9.8M583.2 93.2V99.2M583.2 107.0V113.0M578.3 113.0h9.8"/><circle cx="583.2" cy="103.1" r="3.9"/><path d="M584.3 88.0h9.8M589.2 88.0V97.4M589.2 105.2V114.6M584.3 114.6h9.8"/><circle cx="589.2" cy="101.3" r="3.9"/><path d="M592.9 64.2h9.8M597.8 64.2V71.1M597.8 78.9V85.9M592.9 85.9h9.8"/><circle cx="597.8" cy="75.0" r="3.9"/><path d="M598.9 83.4h9.8M603.8 83.4V92.5M603.8 100.3V109.4M598.9 109.4h9.8"/><circle cx="603.8" cy="96.4" r="3.9"/><path d="M606.6 69.6h9.8M611.5 69.6V78.2M611.5 86.0V94.7M606.6 94.7h9.8"/><circle cx="611.5" cy="82.1" r="3.9"/><path d="M616.7 73.0h9.8M621.6 73.0V80.3M621.6 88.1V95.4M616.7 95.4h9.8"/><circle cx="621.6" cy="84.2" r="3.9"/><path d="M623.0 62.1h9.8M627.9 62.1V67.7M627.9 75.5V81.2M623.0 81.2h9.8"/><circle cx="627.9" cy="71.6" r="3.9"/><path d="M632.1 70.9h9.8M637.0 70.9V78.1M637.0 85.9V93.0M632.1 93.0h9.8"/><circle cx="637.0" cy="82.0" r="3.9"/><path d="M330.1 81.1h9.8M335.0 81.1V86.1M335.0 93.9V98.9M330.1 98.9h9.8"/><circle cx="335.0" cy="90.0" r="3.9"/><path d="M636.2 47.8h9.8M641.1 47.8V55.5M641.1 63.3V71.0M636.2 71.0h9.8"/><circle cx="641.1" cy="59.4" r="3.9"/><path d="M642.3 70.1h9.8M647.2 70.1V78.1M647.2 85.9V93.9M642.3 93.9h9.8"/><circle cx="647.2" cy="82.0" r="3.9"/><path d="M648.7 92.2h9.8M653.6 92.2V99.7M653.6 107.5V115.0M648.7 115.0h9.8"/><circle cx="653.6" cy="103.6" r="3.9"/><path d="M654.3 85.4h9.8M659.2 85.4V94.1M659.2 101.9V110.6M654.3 110.6h9.8"/><circle cx="659.2" cy="98.0" r="3.9"/><path d="M658.9 62.6h9.8M663.8 62.6V71.4M663.8 79.2V88.0M658.9 88.0h9.8"/><circle cx="663.8" cy="75.3" r="3.9"/><path d="M666.3 54.2h9.8M671.2 54.2V63.5M671.2 71.3V80.6M666.3 80.6h9.8"/><circle cx="671.2" cy="67.4" r="3.9"/><path d="M671.3 87.6h9.8M676.2 87.6V95.1M676.2 102.9V110.4M671.3 110.4h9.8"/><circle cx="676.2" cy="99.0" r="3.9"/><path d="M675.4 108.8h9.8M680.3 108.8V118.9M680.3 126.7V136.8M675.4 136.8h9.8"/><circle cx="680.3" cy="122.8" r="3.9"/><path d="M679.2 92.5h9.8M684.1 92.5V99.7M684.1 107.5V114.7M679.2 114.7h9.8"/><circle cx="684.1" cy="103.6" r="3.9"/><path d="M683.8 70.2h9.8M688.7 70.2V78.1M688.7 85.9V93.8M683.8 93.8h9.8"/><circle cx="688.7" cy="82.0" r="3.9"/><path d="M687.6 112.0h9.8M692.5 112.0V123.0M692.5 130.8V141.8M687.6 141.8h9.8"/><circle cx="692.5" cy="126.9" r="3.9"/><path d="M691.5 138.4h9.8M696.4 138.4V149.9M696.4 157.7V169.2M691.5 169.2h9.8"/><circle cx="696.4" cy="153.8" r="3.9"/><path d="M693.7 149.5h9.8M698.6 149.5V158.8M698.6 166.6V175.9M693.7 175.9h9.8"/><circle cx="698.6" cy="162.7" r="3.9"/><path d="M696.8 166.8h9.8M701.7 166.8V177.8M701.7 185.6V196.6M696.8 196.6h9.8"/><circle cx="701.7" cy="181.7" r="3.9"/><path d="M700.1 176.4h9.8M705.0 176.4V185.7M705.0 193.5V202.8M700.1 202.8h9.8"/><circle cx="705.0" cy="189.6" r="3.9"/><path d="M703.1 167.9h9.8M708.0 167.9V179.3M708.0 187.1V198.5M703.1 198.5h9.8"/><circle cx="708.0" cy="183.2" r="3.9"/><path d="M705.4 184.0h9.8M710.3 184.0V193.6M710.3 201.4V211.0M705.4 211.0h9.8"/><circle cx="710.3" cy="197.5" r="3.9"/><path d="M707.9 189.0h9.8M712.8 189.0V198.3M712.8 206.1V215.4M707.9 215.4h9.8"/><circle cx="712.8" cy="202.2" r="3.9"/><path d="M709.5 168.6h9.8M714.4 168.6V177.8M714.4 185.6V194.8M709.5 194.8h9.8"/><circle cx="714.4" cy="181.7" r="3.9"/><path d="M712.7 211.2h9.8M717.6 211.2V223.7M717.6 231.5V244.0M712.7 244.0h9.8"/><circle cx="717.6" cy="227.6" r="3.9"/><path d="M715.8 217.4h9.8M720.7 217.4V226.8M720.7 234.6V244.0M715.8 244.0h9.8"/><circle cx="720.7" cy="230.7" r="3.9"/><path d="M717.4 208.3h9.8M722.3 208.3V217.3M722.3 225.1V234.1M717.4 234.1h9.8"/><circle cx="722.3" cy="221.2" r="3.9"/><path d="M720.6 199.2h9.8M725.5 199.2V209.4M725.5 217.2V227.4M720.6 227.4h9.8"/><circle cx="725.5" cy="213.3" r="3.9"/><path d="M722.0 264.2h9.8M726.9 264.2V273.2M726.9 281.0V290.0M722.0 290.0h9.8"/><circle cx="726.9" cy="277.1" r="3.9"/><path d="M723.9 261.5h9.8M728.8 261.5V268.3M728.8 276.1V282.9M723.9 282.9h9.8"/><circle cx="728.8" cy="272.2" r="3.9"/><path d="M725.9 225.9h9.8M730.8 225.9V234.9M730.8 242.7V251.7M725.9 251.7h9.8"/><circle cx="730.8" cy="238.8" r="3.9"/><path d="M726.9 250.6h9.8M731.8 250.6V259.4M731.8 267.2V276.0M726.9 276.0h9.8"/><circle cx="731.8" cy="263.3" r="3.9"/><path d="M727.8 280.6h9.8M732.7 280.6V295.7M732.7 303.5V318.6M727.8 318.6h9.8"/><circle cx="732.7" cy="299.6" r="3.9"/><path d="M731.8 311.0h9.8M736.7 311.0V326.1M736.7 333.9V349.0M731.8 349.0h9.8"/><circle cx="736.7" cy="330.0" r="3.9"/><path d="M627.9 47.1h9.8M632.8 47.1V59.1M632.8 66.9V78.9M627.9 78.9h9.8"/><circle cx="632.8" cy="63.0" r="3.9"/><path d="M635.8 57.4h9.8M640.7 57.4V66.1M640.7 73.9V82.6M635.8 82.6h9.8"/><circle cx="640.7" cy="70.0" r="3.9"/><path d="M650.1 73.6h9.8M655.0 73.6V84.1M655.0 91.9V102.4M650.1 102.4h9.8"/><circle cx="655.0" cy="88.0" r="3.9"/><path d="M662.1 71.4h9.8M667.0 71.4V81.1M667.0 88.9V98.6M662.1 98.6h9.8"/><circle cx="667.0" cy="85.0" r="3.9"/></g></g>
<path d="M138.0 166.0 L142.0 166.1 L146.0 166.2 L150.0 166.4 L154.0 166.5 L158.0 166.6 L162.0 166.8 L166.0 166.9 L170.0 167.0 L174.0 167.1 L178.0 167.3 L182.0 167.4 L186.0 167.5 L190.0 167.6 L194.0 167.7 L198.0 167.8 L202.0 167.9 L206.0 168.1 L210.0 168.2 L214.0 168.3 L218.0 168.4 L222.0 168.5 L226.0 168.6 L230.0 168.7 L234.0 168.8 L238.0 169.0 L242.0 169.1 L246.0 169.2 L250.0 169.3 L254.0 169.4 L258.0 169.5 L262.0 169.7 L266.0 169.8 L270.0 169.9 L274.0 170.0 L278.0 170.2 L282.0 170.3 L286.0 170.4 L290.0 170.6 L294.0 170.7 L298.0 170.9 L302.0 171.0 L306.0 171.2 L310.0 171.3 L314.0 171.5 L318.0 171.7 L322.0 171.8 L326.0 172.0 L330.0 172.2 L334.0 172.4 L338.0 172.6 L342.0 172.8 L346.0 173.0 L350.0 173.2 L354.0 173.4 L358.0 173.6 L362.0 173.8 L366.0 174.0 L370.0 174.3 L374.0 174.5 L378.0 174.8 L382.0 175.0 L386.0 175.3 L390.0 175.5 L394.0 175.8 L398.0 176.1 L402.0 176.4 L406.0 176.7 L410.0 177.0 L414.0 177.3 L418.0 177.7 L422.0 178.0 L426.0 178.3 L430.0 178.7 L434.0 179.0 L438.0 179.4 L442.0 179.8 L446.0 180.2 L450.0 180.6 L454.0 181.0 L458.0 181.4 L462.0 181.8 L466.0 182.3 L470.0 182.8 L474.0 183.2 L478.0 183.8 L482.0 184.3 L486.0 184.9 L490.0 185.5 L494.0 186.1 L498.0 186.8 L502.0 187.6 L506.0 188.3 L510.0 189.2 L514.0 190.1 L518.0 191.0 L522.0 192.0 L526.0 193.1 L530.0 194.2 L534.0 195.4 L538.0 196.7 L542.0 198.1 L546.0 199.5 L550.0 201.0 L554.0 202.6 L558.0 204.3 L562.0 206.1 L563.0 206.6 L564.0 207.0 L565.0 207.5 L566.0 208.0 L567.0 208.5 L568.0 208.9 L569.0 209.4 L570.0 209.9 L571.0 210.4 L572.0 210.9 L573.0 211.5 L574.0 212.0 L575.0 212.5 L576.0 213.0 L577.0 213.6 L578.0 214.1 L579.0 214.7 L580.0 215.2 L581.0 215.8 L582.0 216.4 L583.0 216.9 L584.0 217.5 L585.0 218.1 L586.0 218.7 L587.0 219.3 L588.0 219.9 L589.0 220.5 L590.0 221.1 L591.0 221.7 L592.0 222.4 L593.0 223.0 L594.0 223.6 L595.0 224.3 L596.0 224.9 L597.0 225.6 L598.0 226.3 L599.0 227.0 L600.0 227.6 L601.0 228.3 L602.0 229.1 L603.0 229.8 L604.0 230.5 L605.0 231.3 L606.0 232.0 L607.0 232.8 L608.0 233.6 L609.0 234.4 L610.0 235.2 L611.0 236.0 L612.0 236.8 L613.0 237.7 L614.0 238.5 L615.0 239.4 L616.0 240.3 L617.0 241.2 L618.0 242.1 L619.0 243.1 L620.0 244.0 L621.0 245.0 L622.0 246.0 L623.0 247.0 L624.0 248.0 L625.0 249.1 L626.0 250.2 L627.0 251.2 L628.0 252.3 L629.0 253.5 L630.0 254.6 L631.0 255.8 L632.0 257.0 L633.0 258.2 L634.0 259.4 L635.0 260.7 L636.0 262.0 L637.0 263.3 L638.0 264.6 L639.0 266.0 L640.0 267.3 L641.0 268.7 L642.0 270.2 L643.0 271.6 L644.0 273.1 L645.0 274.6 L646.0 276.2 L647.0 277.7 L648.0 279.3 L649.0 280.9 L650.0 282.6 L651.0 284.2 L652.0 285.9 L653.0 287.7 L654.0 289.4 L655.0 291.2 L656.0 293.1 L657.0 294.9 L658.0 296.8 L659.0 298.7 L660.0 300.7 L661.0 302.7 L662.0 304.7 L663.0 306.7 L664.0 308.8 L665.0 311.0 L666.0 313.1 L667.0 315.3 L668.0 317.5 L669.0 319.8 L670.0 322.1 L671.0 324.4 L672.0 326.8 L673.0 329.2 L674.0 331.7 L675.0 334.2 L676.0 336.7 L677.0 339.2 L678.0 341.8 L679.0 344.5 L680.0 347.1 L681.0 349.8 L682.0 352.5 L683.0 355.3 L684.0 358.1 L685.0 360.9 L686.0 363.8 L687.0 366.7 L688.0 369.6 L689.0 372.6 L690.0 375.6 L691.0 378.6 L692.0 381.7 L693.0 384.8 L694.0 387.9 L695.0 391.1 L696.0 394.3 L697.0 397.5 L698.0 400.8 L699.0 404.1 L700.0 407.4 L701.0 410.7 L702.0 414.1 L703.0 417.5 L704.0 421.0 L705.0 424.4 L706.0 427.9 L707.0 431.4 L708.0 435.0 L709.0 438.5 L710.0 442.1 L711.0 445.7 L712.0 449.3 L713.0 453.0 L714.0 456.6 L715.0 460.3 L716.0 464.0 L717.0 467.7 L718.0 471.4 L719.0 475.1 L720.0 478.8 L721.0 482.5 L722.0 486.3 L723.0 490.0 L724.0 493.7 L725.0 497.5 L726.0 501.2 L727.0 505.0 L728.0 508.8 L729.0 512.5 L730.0 516.2 L731.0 520.0 L732.0 523.7 L733.0 527.5 L734.0 531.2 L735.0 534.9 L736.0 538.6 L737.0 542.3 L738.0 546.0 L739.0 549.6 L740.0 553.3 L741.0 556.9 L742.0 560.5 L743.0 564.1 L744.0 567.7 L745.0 571.3 L746.0 574.8 L747.0 578.3 L748.0 581.8 L749.0 585.3 L750.0 588.7 L751.0 592.1" fill="none" stroke="#e21010" stroke-width="3.2" stroke-linejoin="round"/>
</g>
<g font-size="30" fill="#000"><text x="138.6" y="618.3" text-anchor="middle" letter-spacing="0.8">0.0</text><text x="211.2" y="618.3" text-anchor="middle" letter-spacing="0.8">0.1</text><text x="283.7" y="618.3" text-anchor="middle" letter-spacing="0.8">0.2</text><text x="356.3" y="618.3" text-anchor="middle" letter-spacing="0.8">0.3</text><text x="428.8" y="618.3" text-anchor="middle" letter-spacing="0.8">0.4</text><text x="501.4" y="618.3" text-anchor="middle" letter-spacing="0.8">0.5</text><text x="573.9" y="618.3" text-anchor="middle" letter-spacing="0.8">0.6</text><text x="646.5" y="618.3" text-anchor="middle" letter-spacing="0.8">0.7</text><text x="719.0" y="618.3" text-anchor="middle" letter-spacing="0.8">0.8</text><text x="791.6" y="618.3" text-anchor="middle" letter-spacing="0.8">0.9</text><text x="127.3" y="541.2" text-anchor="end">0.001</text><text x="127.3" y="436.8" text-anchor="end">0.002</text><text x="127.3" y="332.4" text-anchor="end">0.003</text><text x="127.3" y="228.0" text-anchor="end">0.004</text><text x="127.3" y="123.6" text-anchor="end">0.005</text><text x="127.3" y="21.0" text-anchor="end">0.006</text></g>
<path d="M174.4 586.6V581.6M210.7 586.6V576.6M246.9 586.6V581.6M283.2 586.6V576.6M319.5 586.6V581.6M355.8 586.6V576.6M392.0 586.6V581.6M428.3 586.6V576.6M464.6 586.6V581.6M500.9 586.6V576.6M537.2 586.6V581.6M573.4 586.6V576.6M609.7 586.6V581.6M646.0 586.6V576.6M682.3 586.6V581.6M718.5 586.6V576.6M754.8 586.6V581.6M138.1 534.4H148.1M138.1 586.6H143.1M138.1 430.0H148.1M138.1 482.2H143.1M138.1 325.6H148.1M138.1 377.8H143.1M138.1 221.2H148.1M138.1 273.4H143.1M138.1 116.8H148.1M138.1 169.0H143.1M138.1 64.6H143.1" stroke="#000" stroke-width="1.8" fill="none"/>
<rect x="138.1" y="12.4" width="653.0" height="574.2" fill="none" stroke="#000" stroke-width="2"/>
<text x="462" y="656" font-size="31" font-style="italic" text-anchor="middle">p</text>
<text transform="translate(28,416) rotate(-90)" font-size="28" letter-spacing="1.3" word-spacing="2.5">(d<tspan font-style="italic">p</tspan>/d<tspan font-style="italic">t</tspan>) e<tspan dy="-13" font-size="20" letter-spacing="0.6"><tspan font-family="Liberation Serif" font-style="italic">β</tspan>Δ<tspan font-style="italic">U</tspan></tspan><tspan dy="13" letter-spacing="1.1">/(1-</tspan><tspan font-style="italic">p</tspan>)<tspan dy="-13" font-size="19">2</tspan></text>
<!-- inset -->
<g>
<path d="M233.3 537V218" stroke="#000" stroke-width="1.3"/>
<path d="M228.5 219L233 209.5L237.5 219Z" fill="#000"/>
<path d="M226 435.6H240" stroke="#000" stroke-width="1.5"/>
<path d="M233 535.9H273.1V435.6H362" stroke="#000" stroke-width="2.8" fill="none"/>
<path d="M361 431.5L370.5 435.7L361 440Z" fill="#000"/>
<path d="M269.3 296V534.5" stroke="#ee0f0f" stroke-width="4.4" fill="none"/><path d="M233 533.2H271.5" stroke="#ee0f0f" stroke-width="2.6" fill="none"/>
<path d="M271 432.9H357.3" stroke="#ee0f0f" stroke-width="3.2" fill="none"/>
<text transform="translate(218,281.5) rotate(-90)" font-size="29" font-style="italic">U<tspan font-style="normal"> (</tspan>r<tspan font-style="normal">)</tspan></text>
<text transform="translate(300.5,364.5) rotate(-90)" font-size="30">Δ<tspan font-style="italic">U</tspan></text>
<text x="208.3" y="459.5" font-size="30">0</text>
<text x="175.5" y="533.5" font-size="32">−<tspan font-style="italic">u</tspan><tspan font-size="21.5" dy="6.5" dx="-2.5">0</tspan></text>
<text x="334" y="465.8" font-size="32" font-style="italic">r</text>
<path d="M255.1 546C254.4 544.2 252.3 543.4 250.9 544.1C249.4 544.9 249.4 547.2 250.9 549.4C252.8 552.2 255.4 554.6 255.3 558.4C255.2 562.4 252.4 564.9 249.4 564.8C246.4 564.7 244.6 562.4 244.9 559.6C245.3 556.2 247.8 553.6 251.6 552.6" fill="none" stroke="#000" stroke-width="1.4"/><path d="M255.1 546C254.4 544.2 252.3 543.4 250.9 544.1" fill="none" stroke="#000" stroke-width="2"/><path d="M253.6 552.8C255 554.8 255.5 556.6 255.2 559.4C254.8 562 253.4 563.8 251.4 564.5" fill="none" stroke="#000" stroke-width="2"/>
<path d="M290.4 300.2C290.4 291 285 284.4 276.6 283.6C272 283.2 262 283.2 256.6 284.1C250 285.5 245.5 290 243.6 294.3L235.5 293.9L248.4 299.9L262.7 293.9L255.8 294.1C257.5 289.5 261.5 285.8 266.7 284.8C272.5 285.5 277.5 291 277.9 300.2Z" fill="#b8b8b8" stroke="#111" stroke-width="1.3" stroke-linejoin="miter"/>
</g>
<circle cx="511.8" cy="375.2" r="4.2" fill="none" stroke="#000000" stroke-width="1"/><text x="526.5" y="382.2" fill="#000000" font-size="20"><tspan font-family="Liberation Serif" font-style="italic">β</tspan><tspan font-family="Liberation Serif" dx="0.5">Δ</tspan><tspan font-style="italic" dx="0.4">U</tspan><tspan dx="-0.3">=</tspan><tspan dx="0.4">0</tspan></text><circle cx="511.8" cy="409.9" r="4.2" fill="none" stroke="#dd22dd" stroke-width="1"/><text x="526.5" y="416.9" fill="#dd22dd" font-size="20"><tspan font-family="Liberation Serif" font-style="italic">β</tspan><tspan font-family="Liberation Serif" dx="0.5">Δ</tspan><tspan font-style="italic" dx="0.4">U</tspan><tspan dx="-0.3">=</tspan><tspan dx="0.4">0.5</tspan></text><circle cx="511.8" cy="444.6" r="4.2" fill="none" stroke="#1818c8" stroke-width="1"/><text x="526.5" y="451.6" fill="#1818c8" font-size="20"><tspan font-family="Liberation Serif" font-style="italic">β</tspan><tspan font-family="Liberation Serif" dx="0.5">Δ</tspan><tspan font-style="italic" dx="0.4">U</tspan><tspan dx="-0.3">=</tspan><tspan dx="0.4">1</tspan></text><circle cx="511.8" cy="479.3" r="4.2" fill="none" stroke="#1e961e" stroke-width="1"/><text x="526.5" y="486.3" fill="#1e961e" font-size="20"><tspan font-family="Liberation Serif" font-style="italic">β</tspan><tspan font-family="Liberation Serif" dx="0.5">Δ</tspan><tspan font-style="italic" dx="0.4">U</tspan><tspan dx="-0.3">=</tspan><tspan dx="0.4">2</tspan></text><circle cx="511.8" cy="514.0" r="4.2" fill="none" stroke="#ee8a22" stroke-width="1"/><text x="526.5" y="521.0" fill="#ee8a22" font-size="20"><tspan font-family="Liberation Serif" font-style="italic">β</tspan><tspan font-family="Liberation Serif" dx="0.5">Δ</tspan><tspan font-style="italic" dx="0.4">U</tspan><tspan dx="-0.3">=</tspan><tspan dx="0.4">3</tspan></text><circle cx="511.8" cy="548.7" r="4.2" fill="none" stroke="#dc2228" stroke-width="1"/><text x="526.5" y="555.7" fill="#dc2228" font-size="20"><tspan font-family="Liberation Serif" font-style="italic">β</tspan><tspan font-family="Liberation Serif" dx="0.5">Δ</tspan><tspan font-style="italic" dx="0.4">U</tspan><tspan dx="-0.3">=</tspan><tspan dx="0.4">4</tspan></text>
</svg>
</body></html>
